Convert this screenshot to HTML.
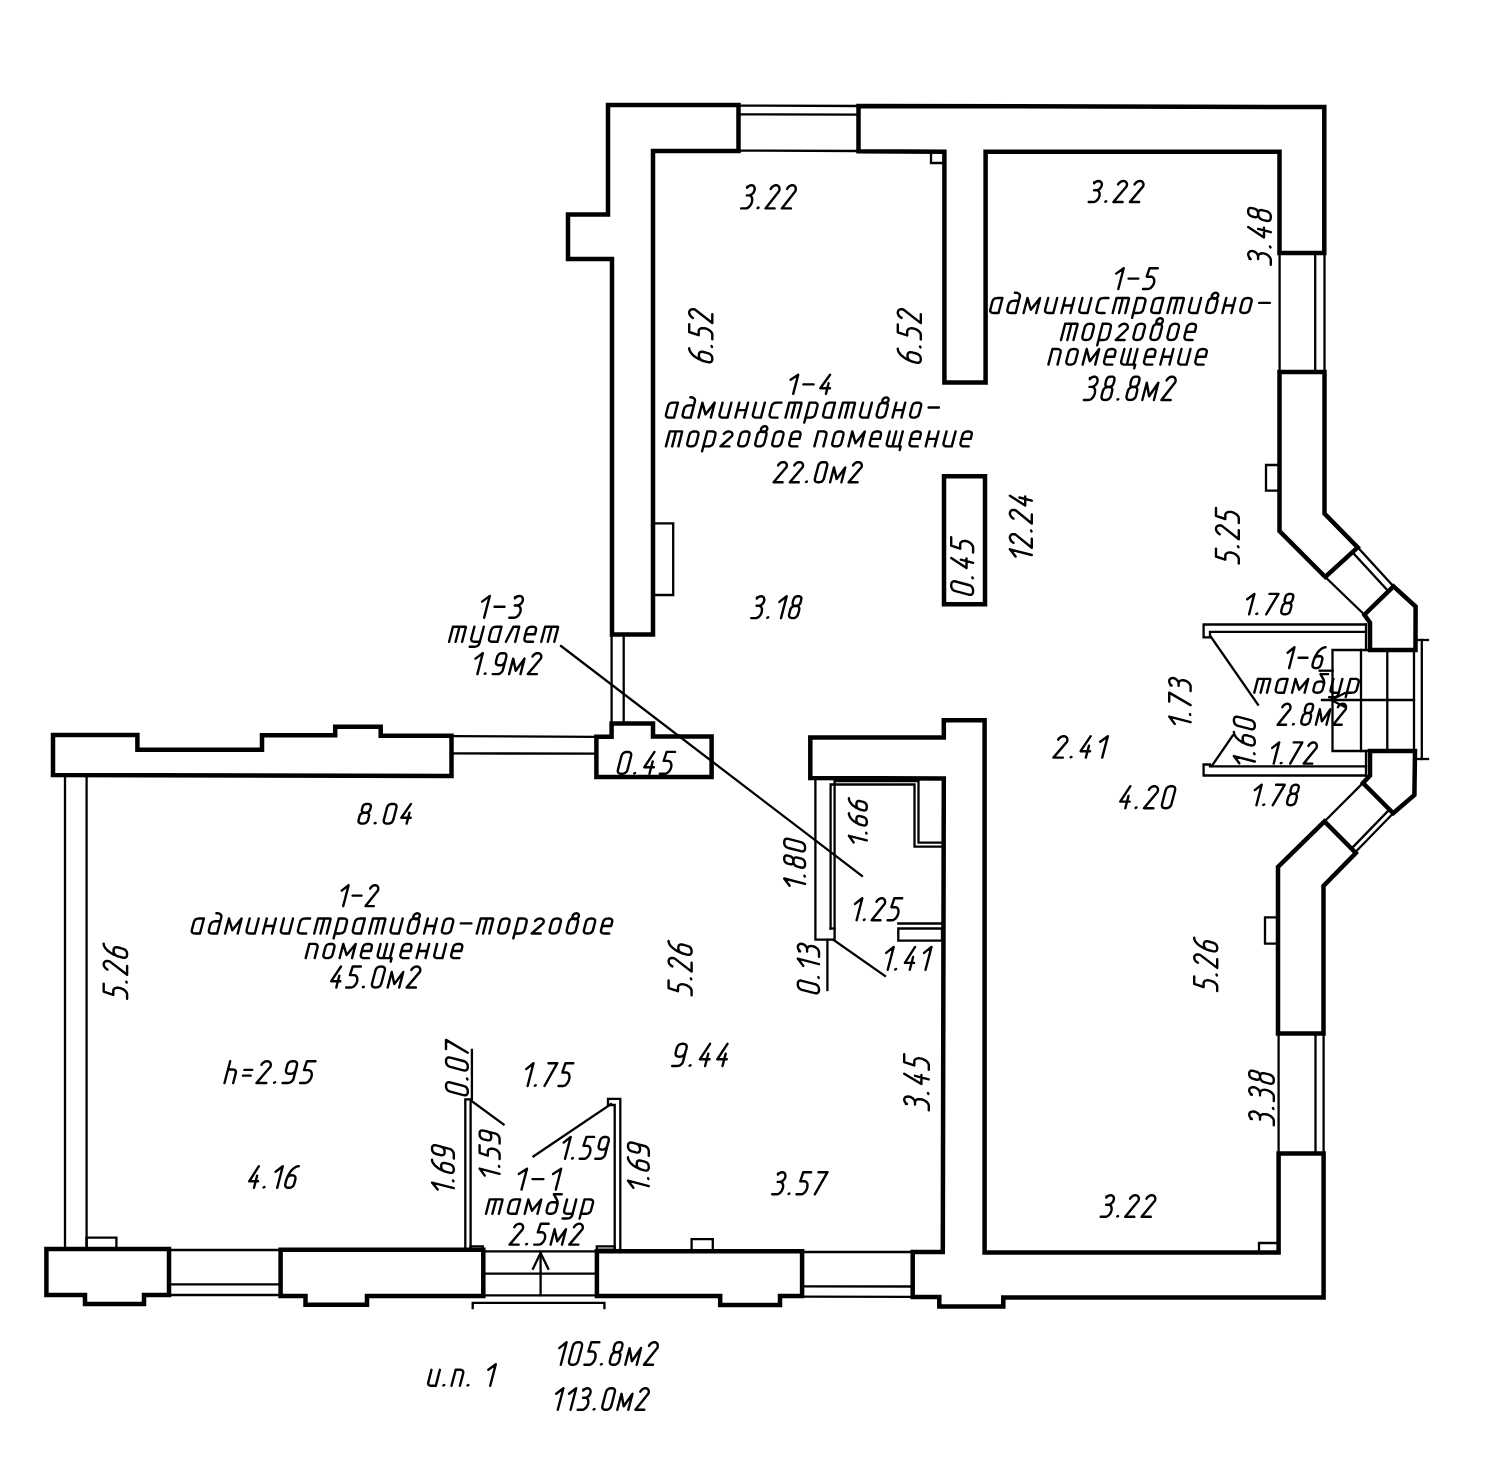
<!DOCTYPE html><html><head><meta charset="utf-8"><style>html,body{margin:0;padding:0;background:#fff;overflow:hidden}svg{display:block}</style></head><body>
<svg width="1500" height="1484" viewBox="0 0 1500 1484">
<rect width="1500" height="1484" fill="#fff"/>
<g fill="none" stroke="#000" stroke-linejoin="miter" stroke-linecap="square">
<path d="M738.5 105.0 L608.0 105.0 L608.0 214.5 L568.0 214.5 L568.0 259.0 L612.0 259.0 L612.0 634.5 L653.0 634.5 L653.0 151.0 L738.5 151.0 Z" stroke-width="4.5"/>
<path d="M858.5 106.0 L1324.3 107.0 L1324.3 253.0 L1279.5 253.0 L1279.5 151.8 L985.6 151.8 L985.6 382.6 L944.4 382.6 L944.4 151.8 L858.5 151.2 Z" stroke-width="4.5"/>
<path d="M738.5 105.6 L858.5 106.0" stroke-width="2.3"/>
<path d="M738.5 114.4 L858.5 114.6" stroke-width="2.3"/>
<path d="M738.5 150.6 L858.5 151.0" stroke-width="2.3"/>
<path d="M931.0 151.8 L944.4 151.8 L944.4 163.0 L931.0 163.0 Z" stroke-width="2.3"/>
<path d="M653.0 523.3 L673.2 523.3 L673.2 595.0 L653.0 595.0 Z" stroke-width="2.3"/>
<path d="M1279.6 253.0 L1279.6 372.0" stroke-width="2.3"/>
<path d="M1315.2 253.0 L1315.2 372.0" stroke-width="2.3"/>
<path d="M1324.5 253.0 L1324.5 372.0" stroke-width="2.3"/>
<path d="M1279.5 372.0 L1324.5 372.0 L1324.5 513.6 L1357.7 547.3 L1325.3 577.0 L1279.5 531.0 Z" stroke-width="4.5"/>
<path d="M1266.0 465.0 L1279.5 465.0 L1279.5 490.7 L1266.0 490.7 Z" stroke-width="2.3"/>
<path d="M1357.7 547.3 L1393.5 586.4" stroke-width="2.3"/>
<path d="M1352.5 552.2 L1388.3 591.2" stroke-width="2.3"/>
<path d="M1325.3 577.0 L1364.4 614.7" stroke-width="2.3"/>
<path d="M1393.5 586.4 L1415.6 606.6 L1415.5 650.0 L1370.0 650.0 L1370.0 622.7 L1364.4 614.7 Z" stroke-width="4.5"/>
<path d="M1332.5 650.0 L1414.0 650.0 L1414.0 751.0 L1332.5 751.0 Z" stroke-width="2.3"/>
<path d="M1361.0 650.0 L1361.0 751.0" stroke-width="2.3"/>
<path d="M1387.3 650.0 L1387.3 751.0" stroke-width="2.3"/>
<path d="M1322.0 700.0 L1414.0 700.0" stroke-width="2.3"/>
<path d="M1319.7 670.7 L1332.5 670.7" stroke-width="2.3"/>
<path d="M1421.8 640.0 L1421.8 759.0" stroke-width="2.3"/>
<path d="M1416.0 640.0 L1428.0 640.0" stroke-width="2.3"/>
<path d="M1416.0 759.0 L1428.0 759.0" stroke-width="2.3"/>
<path d="M1345.0 693.0 L1331.0 700.0 L1345.0 707.0" stroke-width="2.3"/>
<path d="M1370.0 751.0 L1415.0 751.0 L1414.4 795.0 L1393.2 813.3 L1363.0 783.0 L1370.0 775.5 Z" stroke-width="4.5"/>
<path d="M1363.0 783.0 L1324.5 821.4" stroke-width="2.3"/>
<path d="M1390.0 809.0 L1352.0 848.0" stroke-width="2.3"/>
<path d="M1393.2 813.3 L1355.8 851.7" stroke-width="2.3"/>
<path d="M1324.5 821.4 L1278.0 867.0 L1278.0 1033.6 L1323.5 1033.6 L1323.5 886.0 L1355.8 853.0 Z" stroke-width="4.5"/>
<path d="M1265.0 917.4 L1278.0 917.4 L1278.0 943.7 L1265.0 943.7 Z" stroke-width="2.3"/>
<path d="M1278.6 1033.6 L1278.6 1153.5" stroke-width="2.3"/>
<path d="M1315.5 1033.6 L1315.5 1153.5" stroke-width="2.3"/>
<path d="M1323.6 1033.6 L1323.6 1153.5" stroke-width="2.3"/>
<path d="M1278.6 1153.5 L1323.6 1153.5 L1323.6 1297.5 L1003.3 1297.5 L1003.3 1306.6 L939.3 1306.6 L939.3 1297.0 L912.7 1297.0 L912.7 1252.0 L942.8 1252.0 L943.8 778.4 L810.3 778.0 L810.3 737.4 L943.8 737.4 L943.8 720.2 L984.6 720.2 L984.6 1252.4 L1278.6 1252.5 Z" stroke-width="4.5"/>
<path d="M1259.0 1243.0 L1278.6 1243.0 L1278.6 1252.5 L1259.0 1252.5 Z" stroke-width="2.3"/>
<path d="M944.0 476.3 L985.0 476.3 L985.0 604.3 L944.0 604.3 Z" stroke-width="4.5"/>
<path d="M53.0 735.0 L137.4 735.0 L137.4 749.8 L262.0 749.8 L262.0 735.3 L335.2 735.3 L335.2 726.8 L380.7 726.8 L380.7 735.7 L451.5 735.7 L451.5 776.0 L53.0 775.0 Z" stroke-width="4.5"/>
<path d="M451.5 736.2 L596.4 736.8" stroke-width="2.3"/>
<path d="M451.5 753.4 L596.4 753.6" stroke-width="2.3"/>
<path d="M596.4 736.8 L611.6 736.8 L611.6 723.4 L653.0 723.4 L653.0 736.6 L711.6 736.6 L711.6 777.0 L596.4 777.0 Z" stroke-width="4.5"/>
<path d="M611.6 634.5 L611.6 723.4" stroke-width="2.3"/>
<path d="M623.7 634.5 L623.7 723.4" stroke-width="2.3"/>
<path d="M65.0 775.0 L65.0 1249.0" stroke-width="2.3"/>
<path d="M86.6 775.0 L86.6 1249.0" stroke-width="2.3"/>
<path d="M86.6 1237.6 L116.4 1237.6 L116.4 1249.0 L86.6 1249.0 Z" stroke-width="2.3"/>
<path d="M46.4 1249.0 L169.0 1249.0 L169.0 1295.0 L144.0 1295.0 L144.0 1304.0 L85.0 1304.0 L85.0 1295.0 L46.4 1295.0 Z" stroke-width="4.5"/>
<path d="M169.0 1250.0 L280.6 1250.0" stroke-width="2.3"/>
<path d="M169.0 1284.4 L280.6 1284.4" stroke-width="2.3"/>
<path d="M169.0 1295.0 L280.6 1295.0" stroke-width="2.3"/>
<path d="M280.6 1249.7 L483.3 1249.7 L483.3 1296.0 L367.0 1296.0 L367.0 1304.7 L305.5 1304.7 L305.5 1296.0 L280.6 1296.0 Z" stroke-width="4.5"/>
<path d="M483.3 1251.4 L596.9 1251.4" stroke-width="2.3"/>
<path d="M483.3 1273.7 L596.9 1273.7" stroke-width="2.3"/>
<path d="M483.3 1295.3 L596.9 1295.3" stroke-width="2.3"/>
<path d="M540.6 1295.0 L540.6 1253.0" stroke-width="2.3"/>
<path d="M533.0 1268.7 L540.6 1253.0 L548.2 1268.7" stroke-width="2.3"/>
<path d="M472.7 1308.0 L472.7 1302.9 L604.4 1302.9 L604.4 1308.0" stroke-width="2.3"/>
<path d="M596.9 1251.3 L802.1 1251.3 L802.1 1296.0 L780.0 1296.0 L780.0 1305.1 L720.2 1305.1 L720.2 1296.0 L596.9 1296.0 Z" stroke-width="4.5"/>
<path d="M691.6 1239.2 L712.8 1239.2 L712.8 1251.3 L691.6 1251.3 Z" stroke-width="2.3"/>
<path d="M802.1 1252.0 L912.7 1252.0" stroke-width="2.3"/>
<path d="M802.1 1286.3 L912.7 1286.5" stroke-width="2.3"/>
<path d="M802.1 1296.6 L912.7 1296.8" stroke-width="2.3"/>
<path d="M815.4 778.0 L815.4 939.6 L834.6 939.6 L834.6 781.0 L918.5 781.0 L918.5 842.6 L942.0 842.6" stroke-width="2.3"/>
<path d="M830.6 928.5 L830.6 784.5 L914.5 784.5 L914.5 846.6 L942.0 846.6" stroke-width="2.3"/>
<path d="M830.6 928.5 L834.6 928.5" stroke-width="2.3"/>
<path d="M898.3 923.5 L942.0 923.5" stroke-width="2.3"/>
<path d="M898.3 928.5 L942.0 928.5 L942.0 940.6 L898.3 940.6 Z" stroke-width="2.3"/>
<path d="M1366.0 624.5 L1203.6 624.5 L1203.6 637.3 L1210.0 637.3 L1210.0 631.8 L1366.0 631.8" stroke-width="2.3"/>
<path d="M1366.0 775.5 L1203.6 775.5 L1203.6 764.5 L1210.0 764.5 L1210.0 766.4 L1366.0 766.4" stroke-width="2.3"/>
<path d="M1366.0 624.5 L1366.0 650.0" stroke-width="2.3"/>
<path d="M1366.0 751.0 L1366.0 775.5" stroke-width="2.3"/>
<path d="M465.3 1249.7 L465.3 1099.3 L470.6 1099.3 L470.6 1249.7" stroke-width="2.3"/>
<path d="M614.7 1249.7 L614.7 1105.0 L608.0 1105.0 L608.0 1098.8 L620.3 1098.8 L620.3 1249.7" stroke-width="2.3"/>
<path d="M470.6 1246.4 L482.8 1246.4 L482.8 1249.7 L470.6 1249.7 Z" stroke-width="2.3"/>
<path d="M596.8 1246.4 L614.7 1246.4 L614.7 1249.7 L596.8 1249.7 Z" stroke-width="2.3"/>
<path d="M561.0 646.0 L862.0 876.0" stroke-width="2.3"/>
<path d="M833.6 940.0 L885.0 976.0" stroke-width="2.3"/>
<path d="M827.4 940.0 L827.4 990.0" stroke-width="2.3"/>
<path d="M1211.0 637.0 L1258.0 704.6" stroke-width="2.3"/>
<path d="M1211.8 766.0 L1232.7 735.5" stroke-width="2.3"/>
<path d="M471.9 1101.2 L503.6 1124.5" stroke-width="2.3"/>
<path d="M611.0 1104.0 L533.5 1156.3" stroke-width="2.3"/>
<path d="M471.9 1049.9 L471.9 1099.3" stroke-width="2.3"/>
</g>
<g fill="none" stroke="#000" stroke-width="2.4" stroke-linejoin="round" stroke-linecap="round">
<path d="M747.3 186.6 L747.1 187.8 L748.1 186.7 L749.2 185.9 L750.4 185.4 L751.5 185.2 L752.6 185.4 L753.5 185.9 L754.2 186.7 L754.6 187.8 L754.7 189.0 L754.5 190.3 L754.0 191.6 L753.3 192.9 L752.3 193.9 L751.2 194.7 L750.0 195.2 L748.9 195.4 L746.8 195.4 M746.8 195.4 L749.1 195.4 L749.1 195.4 L750.0 195.5 L750.7 195.9 L751.3 196.5 L751.8 197.3 L752.1 198.3 L752.2 199.4 L752.2 200.6 L751.9 201.9 L751.5 203.2 L751.0 204.4 L750.2 205.5 L749.4 206.5 L748.5 207.3 L747.6 207.9 L746.6 208.3 L745.7 208.4 L741.2 208.4 M757.6 208.1 L758.5 207.6 M770.7 189.0 L771.4 187.9 L772.2 187.0 L773.1 186.3 L774.1 185.7 L775.1 185.3 L776.1 185.2 L777.1 185.3 L777.9 185.7 L778.6 186.3 L779.1 187.0 L779.4 187.9 L779.5 189.0 L779.4 190.1 L779.0 191.2 L765.5 208.4 L774.6 208.4 M787.1 189.0 L787.7 187.9 L788.5 187.0 L789.4 186.3 L790.4 185.7 L791.4 185.3 L792.4 185.2 L793.4 185.3 L794.2 185.7 L794.9 186.3 L795.4 187.0 L795.7 187.9 L795.8 189.0 L795.7 190.1 L795.3 191.2 L781.8 208.4 L790.9 208.4"/>
<path d="M1094.3 182.3 L1094.1 183.3 L1095.1 182.4 L1096.2 181.6 L1097.4 181.2 L1098.5 181.0 L1099.6 181.2 L1100.5 181.6 L1101.3 182.4 L1101.7 183.3 L1101.8 184.4 L1101.7 185.6 L1101.2 186.8 L1100.5 187.9 L1099.6 188.9 L1098.5 189.6 L1097.3 190.1 L1096.1 190.2 L1094.1 190.2 M1094.1 190.2 L1096.3 190.2 L1096.3 190.2 L1097.2 190.4 L1098.0 190.7 L1098.6 191.2 L1099.1 192.0 L1099.5 192.9 L1099.6 193.9 L1099.6 195.0 L1099.4 196.1 L1099.0 197.3 L1098.5 198.4 L1097.8 199.4 L1097.0 200.3 L1096.1 201.0 L1095.2 201.6 L1094.2 201.9 L1093.3 202.0 L1088.7 202.0 M1105.3 201.7 L1106.2 201.3 M1118.1 184.4 L1118.7 183.5 L1119.5 182.7 L1120.4 182.0 L1121.4 181.4 L1122.4 181.1 L1123.4 181.0 L1124.4 181.1 L1125.3 181.4 L1126.0 182.0 L1126.5 182.7 L1126.9 183.5 L1127.0 184.4 L1126.9 185.4 L1126.5 186.4 L1113.4 202.0 L1122.6 202.0 M1134.6 184.4 L1135.2 183.5 L1136.0 182.7 L1136.9 182.0 L1137.9 181.4 L1138.9 181.1 L1140.0 181.0 L1140.9 181.1 L1141.8 181.4 L1142.5 182.0 L1143.0 182.7 L1143.4 183.5 L1143.5 184.4 L1143.4 185.4 L1143.1 186.4 L1129.9 202.0 L1139.1 202.0"/>
<path d="M1249.6 258.8 L1250.7 259.0 L1249.7 258.0 L1248.9 256.8 L1248.4 255.6 L1248.2 254.4 L1248.4 253.3 L1248.9 252.3 L1249.7 251.6 L1250.7 251.1 L1251.9 251.0 L1253.2 251.1 L1254.5 251.6 L1255.7 252.4 L1256.7 253.4 L1257.5 254.5 L1258.0 255.8 L1258.1 257.0 L1258.1 259.1 M1258.1 259.1 L1258.1 256.7 L1258.1 256.7 L1258.3 255.8 L1258.6 255.0 L1259.2 254.4 L1260.0 253.8 L1261.0 253.5 L1262.1 253.3 L1263.2 253.4 L1264.5 253.6 L1265.7 254.0 L1266.9 254.6 L1268.0 255.3 L1268.9 256.2 L1269.7 257.1 L1270.3 258.1 L1270.7 259.1 L1270.8 260.0 L1270.8 264.8 M1270.5 247.5 L1270.0 246.6 M1248.2 227.0 L1264.0 237.4 L1264.0 227.8 M1258.1 228.9 L1270.8 232.2 M1258.1 213.7 L1258.0 212.5 L1257.7 211.4 L1257.2 210.4 L1256.4 209.7 L1255.5 209.1 L1254.3 208.7 L1252.0 208.1 L1250.9 207.9 L1249.9 208.0 L1249.2 208.4 L1248.6 209.0 L1248.3 209.9 L1248.2 211.2 L1248.2 211.4 L1248.3 212.7 L1248.6 213.8 L1249.2 214.7 L1249.9 215.4 L1250.9 216.0 L1252.0 216.5 L1254.3 217.0 L1255.5 217.2 L1256.4 217.1 L1257.2 216.8 L1257.7 216.1 L1258.0 215.2 L1258.1 214.0 L1258.1 213.7 M1270.8 217.1 L1270.7 215.7 L1270.3 214.4 L1269.7 213.3 L1268.8 212.4 L1267.7 211.7 L1266.3 211.2 L1262.7 210.3 L1261.3 210.0 L1260.2 210.1 L1259.3 210.6 L1258.6 211.3 L1258.3 212.4 L1258.1 213.9 L1258.1 213.9 L1258.3 215.4 L1258.6 216.6 L1259.3 217.7 L1260.2 218.6 L1261.3 219.3 L1262.7 219.8 L1266.3 220.8 L1267.7 221.0 L1268.8 220.9 L1269.7 220.4 L1270.3 219.7 L1270.7 218.6 L1270.8 217.1 L1270.8 217.1"/>
<path d="M689.2 348.3 L689.2 348.3 L689.3 349.5 L689.8 350.8 L690.4 352.0 L691.4 353.3 L692.5 354.6 L693.9 355.9 L695.5 357.0 L697.3 358.2 L699.2 359.2 L701.2 360.1 L703.3 360.8 L705.4 361.5 M712.3 358.8 L712.2 357.4 L711.8 356.2 L711.1 355.1 L710.2 354.3 L709.1 353.6 L707.7 353.1 L703.5 352.0 L702.1 351.8 L701.0 351.8 L700.1 352.2 L699.4 352.9 L699.0 354.0 L698.9 355.3 L698.9 355.3 L699.0 356.7 L699.4 357.9 L700.1 359.0 L701.0 359.8 L702.1 360.5 L703.5 361.0 L707.7 362.1 L709.1 362.3 L710.2 362.2 L711.1 361.8 L711.8 361.1 L712.2 360.1 L712.3 358.8 L712.3 358.8 M712.0 347.0 L711.5 346.1 M689.2 324.2 L689.2 332.0 L698.7 335.2 L698.7 331.1 L698.7 331.1 L698.8 330.3 L699.2 329.6 L699.8 329.0 L700.7 328.5 L701.7 328.2 L702.9 328.1 L704.2 328.2 L705.5 328.4 L706.8 328.9 L708.1 329.5 L709.3 330.2 L710.3 331.0 L711.2 331.9 L711.8 332.8 L712.2 333.8 L712.3 334.7 L712.3 339.2 M693.0 317.9 L691.9 317.2 L691.0 316.5 L690.3 315.6 L689.7 314.6 L689.3 313.6 L689.2 312.5 L689.3 311.6 L689.7 310.8 L690.3 310.1 L691.0 309.6 L691.9 309.3 L693.0 309.2 L694.1 309.3 L695.2 309.7 L712.3 323.0 L712.3 314.1"/>
<path d="M897.8 348.7 L897.8 348.7 L897.9 349.9 L898.3 351.2 L899.0 352.5 L900.0 353.8 L901.1 355.1 L902.5 356.3 L904.1 357.5 L905.9 358.7 L907.7 359.7 L909.7 360.6 L911.8 361.3 L913.9 362.0 M920.8 359.2 L920.7 357.8 L920.3 356.6 L919.6 355.5 L918.8 354.7 L917.6 354.0 L916.2 353.5 L912.1 352.4 L910.7 352.2 L909.5 352.3 L908.6 352.7 L908.0 353.4 L907.6 354.4 L907.5 355.8 L907.5 355.8 L907.6 357.2 L908.0 358.4 L908.6 359.5 L909.5 360.3 L910.7 361.0 L912.1 361.5 L916.2 362.6 L917.6 362.8 L918.8 362.7 L919.6 362.3 L920.3 361.6 L920.7 360.6 L920.8 359.2 L920.8 359.2 M920.5 347.4 L920.0 346.5 M897.8 324.4 L897.8 332.3 L907.2 335.4 L907.2 331.4 L907.2 331.4 L907.4 330.5 L907.7 329.8 L908.4 329.1 L909.2 328.7 L910.2 328.4 L911.4 328.3 L912.7 328.3 L914.0 328.6 L915.3 329.0 L916.6 329.6 L917.8 330.3 L918.8 331.2 L919.7 332.1 L920.3 333.0 L920.7 334.0 L920.8 334.9 L920.8 339.4 M901.6 317.9 L900.5 317.3 L899.6 316.5 L898.8 315.6 L898.3 314.6 L897.9 313.6 L897.8 312.6 L897.9 311.7 L898.3 310.8 L898.8 310.1 L899.6 309.6 L900.5 309.3 L901.6 309.2 L902.6 309.3 L903.7 309.7 L920.8 323.1 L920.8 314.1"/>
<path d="M973.1 590.9 L973.0 589.4 L972.6 588.1 L972.0 587.0 L971.2 586.1 L970.1 585.4 L968.7 585.0 L955.6 581.5 L954.2 581.3 L953.1 581.4 L952.3 581.9 L951.7 582.7 L951.3 583.8 L951.2 585.2 L951.2 585.2 L951.3 586.7 L951.7 588.0 L952.3 589.1 L953.1 590.0 L954.2 590.7 L955.6 591.2 L968.7 594.6 L970.1 594.8 L971.2 594.7 L972.0 594.2 L972.6 593.5 L973.0 592.4 L973.1 590.9 L973.1 590.9 M972.8 578.3 L972.3 577.4 M951.2 557.9 L966.5 568.1 L966.5 558.5 M960.8 559.7 L973.1 562.9 M951.2 537.2 L951.2 545.6 L960.2 548.7 L960.2 544.3 L960.2 544.3 L960.3 543.4 L960.7 542.6 L961.3 542.0 L962.1 541.4 L963.1 541.1 L964.2 540.9 L965.4 541.0 L966.6 541.2 L967.9 541.6 L969.1 542.2 L970.2 543.0 L971.2 543.8 L972.0 544.8 L972.6 545.7 L973.0 546.7 L973.1 547.7 L973.1 552.5"/>
<path d="M1009.9 549.3 L1031.8 555.0 M1009.9 549.3 L1015.6 556.6 M1013.5 542.8 L1012.5 542.2 L1011.6 541.4 L1010.9 540.5 L1010.4 539.6 L1010.0 538.5 L1009.9 537.5 L1010.0 536.6 L1010.4 535.7 L1010.9 535.0 L1011.6 534.5 L1012.5 534.2 L1013.5 534.1 L1014.5 534.2 L1015.6 534.6 L1031.8 547.7 L1031.8 538.7 M1031.5 531.4 L1031.0 530.5 M1013.5 518.6 L1012.5 518.0 L1011.6 517.2 L1010.9 516.3 L1010.4 515.3 L1010.0 514.3 L1009.9 513.3 L1010.0 512.3 L1010.4 511.5 L1010.9 510.8 L1011.6 510.3 L1012.5 510.0 L1013.5 509.9 L1014.5 510.0 L1015.6 510.3 L1031.8 523.5 L1031.8 514.5 M1009.9 495.7 L1025.2 505.5 L1025.2 496.5 M1019.5 497.5 L1031.8 500.7"/>
<path d="M1216.0 548.6 L1216.0 556.5 L1225.3 559.6 L1225.3 555.6 L1225.3 555.6 L1225.5 554.7 L1225.9 554.0 L1226.5 553.4 L1227.3 552.9 L1228.3 552.6 L1229.5 552.5 L1230.8 552.5 L1232.1 552.8 L1233.4 553.2 L1234.6 553.8 L1235.8 554.5 L1236.8 555.4 L1237.7 556.3 L1238.3 557.2 L1238.7 558.2 L1238.8 559.1 L1238.8 563.6 M1238.5 547.2 L1238.0 546.3 M1219.7 534.2 L1218.7 533.5 L1217.8 532.8 L1217.0 531.8 L1216.5 530.9 L1216.1 529.8 L1216.0 528.8 L1216.1 527.9 L1216.5 527.0 L1217.0 526.3 L1217.8 525.8 L1218.7 525.5 L1219.7 525.4 L1220.8 525.5 L1221.9 525.9 L1238.8 539.3 L1238.8 530.2 M1216.0 508.0 L1216.0 515.9 L1225.3 519.0 L1225.3 515.0 L1225.3 515.0 L1225.5 514.1 L1225.9 513.4 L1226.5 512.7 L1227.3 512.3 L1228.3 512.0 L1229.5 511.9 L1230.8 511.9 L1232.1 512.2 L1233.4 512.6 L1234.6 513.2 L1235.8 513.9 L1236.8 514.7 L1237.7 515.6 L1238.3 516.6 L1238.7 517.5 L1238.8 518.5 L1238.8 523.0"/>
<path d="M757.0 597.5 L756.8 598.6 L757.8 597.6 L758.8 596.8 L760.0 596.4 L761.1 596.2 L762.2 596.4 L763.1 596.8 L763.8 597.6 L764.2 598.6 L764.3 599.8 L764.1 601.0 L763.6 602.3 L762.9 603.4 L762.0 604.4 L760.9 605.2 L759.8 605.7 L758.6 605.8 L756.6 605.8 M756.6 605.8 L758.9 605.8 L758.9 605.8 L759.7 606.0 L760.4 606.3 L761.1 606.9 L761.5 607.6 L761.9 608.6 L762.0 609.6 L761.9 610.8 L761.7 612.0 L761.3 613.2 L760.8 614.3 L760.1 615.4 L759.3 616.3 L758.4 617.1 L757.5 617.6 L756.6 618.0 L755.7 618.1 L751.2 618.1 M767.3 617.8 L768.2 617.3 M786.7 596.2 L781.0 618.1 M786.7 596.2 L779.4 601.9 M795.9 605.8 L797.1 605.7 L798.1 605.4 L799.0 604.9 L799.7 604.2 L800.2 603.3 L800.6 602.1 L801.2 599.9 L801.4 598.8 L801.3 597.9 L801.0 597.1 L800.4 596.6 L799.5 596.3 L798.4 596.2 L798.2 596.2 L797.0 596.3 L795.9 596.6 L795.1 597.1 L794.4 597.9 L793.8 598.8 L793.4 599.9 L792.8 602.1 L792.6 603.3 L792.7 604.2 L793.1 604.9 L793.7 605.4 L794.5 605.7 L795.7 605.8 L795.9 605.8 M792.6 618.1 L794.0 618.0 L795.2 617.6 L796.2 617.0 L797.1 616.2 L797.7 615.1 L798.2 613.7 L799.1 610.2 L799.3 608.9 L799.2 607.8 L798.8 606.9 L798.1 606.3 L797.1 606.0 L795.8 605.8 L795.8 605.8 L794.4 606.0 L793.2 606.3 L792.1 606.9 L791.3 607.8 L790.6 608.9 L790.2 610.2 L789.3 613.7 L789.0 615.1 L789.1 616.2 L789.5 617.0 L790.2 617.6 L791.2 618.0 L792.6 618.1 L792.6 618.1"/>
<path d="M1254.4 593.9 L1249.1 614.3 M1254.4 593.9 L1247.2 599.2 M1256.3 614.0 L1257.2 613.6 M1269.5 593.9 L1278.5 593.9 L1266.2 614.3 M1287.9 602.9 L1289.1 602.8 L1290.1 602.5 L1291.0 602.0 L1291.7 601.3 L1292.2 600.5 L1292.6 599.4 L1293.1 597.4 L1293.3 596.3 L1293.2 595.4 L1292.9 594.8 L1292.2 594.3 L1291.4 594.0 L1290.2 593.9 L1290.0 593.9 L1288.8 594.0 L1287.8 594.3 L1286.9 594.8 L1286.2 595.4 L1285.7 596.3 L1285.3 597.4 L1284.8 599.4 L1284.6 600.5 L1284.7 601.3 L1285.0 602.0 L1285.7 602.5 L1286.5 602.8 L1287.7 602.9 L1287.9 602.9 M1284.8 614.3 L1286.2 614.2 L1287.4 613.8 L1288.4 613.3 L1289.3 612.5 L1289.9 611.5 L1290.3 610.2 L1291.2 607.0 L1291.4 605.7 L1291.3 604.7 L1290.9 603.9 L1290.1 603.3 L1289.1 603.0 L1287.8 602.9 L1287.8 602.9 L1286.4 603.0 L1285.2 603.3 L1284.2 603.9 L1283.3 604.7 L1282.7 605.7 L1282.2 607.0 L1281.4 610.2 L1281.2 611.5 L1281.3 612.5 L1281.7 613.3 L1282.4 613.8 L1283.5 614.2 L1284.8 614.3 L1284.8 614.3"/>
<path d="M1294.5 647.3 L1289.1 668.1 M1294.5 647.3 L1287.6 652.7 M1298.6 657.7 L1307.5 657.7 M1325.5 647.3 L1325.5 647.3 L1324.4 647.4 L1323.2 647.8 L1322.0 648.4 L1320.7 649.3 L1319.6 650.3 L1318.4 651.6 L1317.3 653.0 L1316.3 654.6 L1315.3 656.3 L1314.5 658.1 L1313.8 660.0 L1313.2 661.9 M1315.8 668.1 L1317.2 668.0 L1318.3 667.6 L1319.3 667.1 L1320.1 666.3 L1320.7 665.2 L1321.2 663.9 L1322.1 660.2 L1322.4 658.9 L1322.3 657.9 L1321.9 657.1 L1321.2 656.5 L1320.3 656.2 L1319.0 656.0 L1319.0 656.0 L1317.7 656.2 L1316.5 656.5 L1315.5 657.1 L1314.7 657.9 L1314.1 658.9 L1313.7 660.2 L1312.7 663.9 L1312.5 665.2 L1312.6 666.3 L1312.9 667.1 L1313.6 667.6 L1314.6 668.0 L1315.8 668.1 L1315.8 668.1"/>
<path d="M1254.3 692.7 L1257.9 678.9 L1269.7 678.9 L1269.9 678.9 L1270.1 679.0 L1270.2 679.0 L1270.3 679.1 L1270.3 679.3 L1270.3 679.5 L1266.9 692.7 M1261.7 678.9 L1261.7 678.9 L1262.4 679.0 L1263.0 679.1 L1263.4 679.4 L1263.7 679.7 L1263.8 680.2 L1263.7 680.8 L1260.6 692.7 M1287.6 678.9 L1283.0 678.9 L1281.6 679.0 L1280.4 679.3 L1279.4 679.7 L1278.6 680.4 L1278.0 681.2 L1277.6 682.3 L1275.8 689.3 L1275.7 690.4 L1275.8 691.2 L1276.3 691.9 L1277.0 692.3 L1278.1 692.6 L1279.5 692.7 L1284.0 692.7 M1287.6 678.9 L1284.0 692.7 M1292.0 692.7 L1295.6 678.9 L1299.1 689.7 L1308.2 678.9 L1304.6 692.7 M1317.2 692.7 L1318.6 692.6 L1319.8 692.3 L1320.8 691.9 L1321.6 691.2 L1322.2 690.4 L1322.6 689.3 L1323.8 684.9 L1323.9 683.8 L1323.7 683.0 L1323.3 682.4 L1322.5 681.9 L1321.5 681.6 L1320.1 681.5 L1320.1 681.5 L1318.7 681.6 L1317.5 681.9 L1316.5 682.4 L1315.7 683.0 L1315.1 683.8 L1314.7 684.9 L1313.5 689.3 L1313.4 690.4 L1313.6 691.2 L1314.0 691.9 L1314.8 692.3 L1315.8 692.6 L1317.2 692.7 L1317.2 692.7 M1320.5 674.1 L1328.1 674.1 M1320.5 674.1 L1323.3 679.1 L1323.7 679.9 L1324.0 680.8 L1324.1 681.6 L1324.2 682.5 L1324.1 683.4 L1323.9 684.3 L1323.2 687.1 M1333.4 678.9 L1330.7 689.3 L1330.5 690.4 L1330.7 691.2 L1331.1 691.9 L1331.9 692.3 L1332.9 692.6 L1334.3 692.7 L1338.8 692.7 M1342.4 678.9 L1338.5 693.8 L1338.2 694.8 L1337.6 695.7 L1336.8 696.3 L1335.8 696.8 L1334.6 697.1 L1333.1 697.2 L1329.1 697.2 M1350.5 678.9 L1345.7 697.2 M1350.5 678.9 L1355.0 678.9 L1356.4 679.0 L1357.4 679.3 L1358.2 679.7 L1358.6 680.4 L1358.8 681.2 L1358.7 682.3 L1356.8 689.3 L1356.4 690.4 L1355.8 691.2 L1355.0 691.9 L1354.0 692.3 L1352.8 692.6 L1351.4 692.7 L1346.9 692.7"/>
<path d="M1282.3 707.2 L1282.9 706.3 L1283.6 705.4 L1284.5 704.8 L1285.4 704.2 L1286.3 703.9 L1287.3 703.8 L1288.2 703.9 L1289.0 704.2 L1289.6 704.8 L1290.1 705.4 L1290.4 706.3 L1290.5 707.2 L1290.4 708.2 L1290.1 709.2 L1277.6 724.7 L1286.1 724.7 M1293.0 724.4 L1293.8 724.0 M1307.9 713.0 L1309.0 712.9 L1310.0 712.6 L1310.8 712.1 L1311.5 711.4 L1312.0 710.5 L1312.4 709.4 L1312.9 707.4 L1313.1 706.3 L1313.0 705.4 L1312.7 704.7 L1312.2 704.2 L1311.3 703.9 L1310.2 703.8 L1310.0 703.8 L1308.9 703.9 L1307.9 704.2 L1307.1 704.7 L1306.4 705.4 L1305.9 706.3 L1305.5 707.4 L1305.0 709.4 L1304.8 710.5 L1304.8 711.4 L1305.2 712.1 L1305.7 712.6 L1306.6 712.9 L1307.6 713.0 L1307.9 713.0 M1304.7 724.7 L1306.0 724.6 L1307.2 724.2 L1308.2 723.7 L1309.0 722.8 L1309.6 721.8 L1310.0 720.5 L1310.9 717.2 L1311.1 715.9 L1311.0 714.9 L1310.7 714.0 L1310.0 713.5 L1309.0 713.1 L1307.7 713.0 L1307.7 713.0 L1306.4 713.1 L1305.3 713.5 L1304.3 714.0 L1303.5 714.9 L1302.9 715.9 L1302.4 717.2 L1301.5 720.5 L1301.3 721.8 L1301.4 722.8 L1301.8 723.7 L1302.5 724.2 L1303.4 724.6 L1304.7 724.7 L1304.7 724.7 M1315.8 724.7 L1319.8 709.2 L1321.9 721.4 L1330.4 709.2 L1326.4 724.7 M1337.9 707.2 L1338.5 706.3 L1339.2 705.4 L1340.0 704.8 L1341.0 704.2 L1341.9 703.9 L1342.9 703.8 L1343.8 703.9 L1344.6 704.2 L1345.2 704.8 L1345.7 705.4 L1346.0 706.3 L1346.1 707.2 L1346.0 708.2 L1345.7 709.2 L1333.2 724.7 L1341.7 724.7"/>
<path d="M1233.9 756.1 L1254.8 761.5 M1233.9 756.1 L1239.3 763.3 M1254.5 754.2 L1254.1 753.3 M1233.9 732.0 L1233.9 732.0 L1234.0 733.2 L1234.4 734.4 L1235.0 735.7 L1235.9 737.0 L1236.9 738.2 L1238.2 739.4 L1239.6 740.6 L1241.2 741.6 L1242.9 742.6 L1244.7 743.4 L1246.6 744.2 L1248.5 744.7 M1254.8 741.9 L1254.7 740.5 L1254.3 739.3 L1253.8 738.2 L1252.9 737.4 L1251.9 736.8 L1250.6 736.3 L1246.9 735.3 L1245.6 735.1 L1244.5 735.2 L1243.7 735.6 L1243.1 736.4 L1242.8 737.4 L1242.7 738.7 L1242.7 738.7 L1242.8 740.1 L1243.1 741.3 L1243.7 742.4 L1244.5 743.2 L1245.6 743.8 L1246.9 744.3 L1250.6 745.3 L1251.9 745.5 L1252.9 745.4 L1253.8 745.0 L1254.3 744.2 L1254.7 743.2 L1254.8 741.9 L1254.8 741.9 M1254.8 725.7 L1254.7 724.3 L1254.3 723.1 L1253.8 722.1 L1252.9 721.3 L1251.9 720.6 L1250.6 720.2 L1238.1 716.9 L1236.8 716.7 L1235.8 716.8 L1234.9 717.2 L1234.4 717.9 L1234.0 719.0 L1233.9 720.3 L1233.9 720.3 L1234.0 721.7 L1234.4 722.9 L1234.9 723.9 L1235.8 724.8 L1236.8 725.4 L1238.1 725.9 L1250.6 729.1 L1251.9 729.3 L1252.9 729.2 L1253.8 728.8 L1254.3 728.1 L1254.7 727.1 L1254.8 725.7 L1254.8 725.7"/>
<path d="M1279.2 742.4 L1273.7 763.6 M1279.2 742.4 L1272.2 747.9 M1280.7 763.3 L1281.5 762.9 M1293.7 742.4 L1302.4 742.4 L1290.2 763.6 M1308.5 745.9 L1309.1 744.9 L1309.8 744.1 L1310.7 743.4 L1311.6 742.8 L1312.6 742.5 L1313.5 742.4 L1314.4 742.5 L1315.2 742.8 L1315.9 743.4 L1316.4 744.1 L1316.7 744.9 L1316.8 745.9 L1316.7 746.9 L1316.4 747.9 L1303.7 763.6 L1312.3 763.6"/>
<path d="M1261.7 784.8 L1256.4 805.2 M1261.7 784.8 L1254.8 790.1 M1263.3 804.9 L1264.2 804.5 M1276.1 784.8 L1284.7 784.8 L1272.8 805.2 M1293.6 793.8 L1294.7 793.7 L1295.7 793.4 L1296.5 792.9 L1297.2 792.2 L1297.7 791.4 L1298.1 790.3 L1298.6 788.3 L1298.8 787.2 L1298.7 786.3 L1298.4 785.7 L1297.8 785.2 L1297.0 784.9 L1295.9 784.8 L1295.7 784.8 L1294.5 784.9 L1293.6 785.2 L1292.7 785.7 L1292.1 786.3 L1291.5 787.2 L1291.2 788.3 L1290.6 790.3 L1290.4 791.4 L1290.5 792.2 L1290.9 792.9 L1291.4 793.4 L1292.3 793.7 L1293.3 793.8 L1293.6 793.8 M1290.5 805.2 L1291.8 805.1 L1293.0 804.7 L1294.0 804.2 L1294.8 803.4 L1295.4 802.4 L1295.8 801.1 L1296.7 797.9 L1296.9 796.6 L1296.8 795.6 L1296.4 794.8 L1295.7 794.2 L1294.7 793.9 L1293.5 793.8 L1293.5 793.8 L1292.1 793.9 L1291.0 794.2 L1290.0 794.8 L1289.2 795.6 L1288.6 796.6 L1288.1 797.9 L1287.3 801.1 L1287.1 802.4 L1287.2 803.4 L1287.5 804.2 L1288.2 804.7 L1289.2 805.1 L1290.5 805.2 L1290.5 805.2"/>
<path d="M1169.2 716.6 L1190.6 722.2 M1169.2 716.6 L1174.8 723.9 M1190.3 715.0 L1189.9 714.1 M1169.2 701.5 L1169.2 692.6 L1190.6 705.1 M1170.5 685.3 L1171.6 685.5 L1170.6 684.6 L1169.8 683.5 L1169.4 682.3 L1169.2 681.2 L1169.4 680.1 L1169.8 679.2 L1170.6 678.6 L1171.6 678.1 L1172.7 678.0 L1173.9 678.2 L1175.1 678.6 L1176.3 679.4 L1177.2 680.3 L1178.0 681.4 L1178.5 682.5 L1178.6 683.6 L1178.6 685.7 M1178.6 685.7 L1178.6 683.4 L1178.6 683.4 L1178.7 682.6 L1179.1 681.8 L1179.6 681.2 L1180.4 680.7 L1181.3 680.4 L1182.3 680.3 L1183.4 680.3 L1184.6 680.5 L1185.8 680.9 L1186.9 681.4 L1187.9 682.1 L1188.8 682.9 L1189.6 683.8 L1190.1 684.7 L1190.5 685.6 L1190.6 686.5 L1190.6 691.0"/>
<path d="M1058.2 739.7 L1058.8 738.7 L1059.6 737.9 L1060.6 737.2 L1061.6 736.6 L1062.7 736.3 L1063.7 736.2 L1064.7 736.3 L1065.6 736.6 L1066.4 737.2 L1066.9 737.9 L1067.3 738.7 L1067.4 739.7 L1067.3 740.7 L1067.0 741.7 L1053.4 757.6 L1062.9 757.6 M1070.6 757.3 L1071.5 756.9 M1090.7 736.2 L1080.6 751.2 L1090.1 751.2 M1089.0 745.6 L1085.8 757.6 M1107.8 736.2 L1102.2 757.6 M1107.8 736.2 L1100.2 741.8"/>
<path d="M1130.4 786.2 L1120.2 801.6 L1129.7 801.6 M1128.5 795.9 L1125.3 808.2 M1135.6 807.9 L1136.5 807.4 M1148.9 789.8 L1149.5 788.8 L1150.3 787.9 L1151.2 787.2 L1152.2 786.7 L1153.3 786.3 L1154.4 786.2 L1155.4 786.3 L1156.2 786.7 L1157.0 787.2 L1157.5 787.9 L1157.9 788.8 L1158.0 789.8 L1157.9 790.8 L1157.5 791.9 L1143.9 808.2 L1153.4 808.2 M1165.7 808.2 L1167.2 808.1 L1168.4 807.7 L1169.5 807.1 L1170.4 806.2 L1171.1 805.1 L1171.5 803.8 L1175.0 790.6 L1175.2 789.3 L1175.1 788.2 L1174.7 787.3 L1173.9 786.7 L1172.8 786.3 L1171.4 786.2 L1171.4 786.2 L1169.9 786.3 L1168.6 786.7 L1167.6 787.3 L1166.7 788.2 L1166.0 789.3 L1165.5 790.6 L1162.1 803.8 L1161.9 805.1 L1162.0 806.2 L1162.4 807.1 L1163.2 807.7 L1164.3 808.1 L1165.7 808.2 L1165.7 808.2"/>
<path d="M1194.2 976.4 L1194.2 983.9 L1203.6 987.0 L1203.6 983.2 L1203.6 983.2 L1203.8 982.4 L1204.1 981.7 L1204.8 981.1 L1205.6 980.6 L1206.6 980.4 L1207.8 980.3 L1209.1 980.4 L1210.4 980.6 L1211.7 981.1 L1213.0 981.6 L1214.2 982.3 L1215.2 983.1 L1216.1 984.0 L1216.7 984.9 L1217.1 985.8 L1217.2 986.7 L1217.2 991.0 M1216.9 975.4 L1216.4 974.5 M1198.0 962.7 L1196.9 962.1 L1196.0 961.4 L1195.2 960.5 L1194.7 959.5 L1194.3 958.6 L1194.2 957.6 L1194.3 956.7 L1194.7 955.9 L1195.2 955.2 L1196.0 954.8 L1196.9 954.5 L1198.0 954.4 L1199.0 954.6 L1200.1 954.9 L1217.2 967.9 L1217.2 959.3 M1194.2 937.8 L1194.2 937.8 L1194.3 939.0 L1194.7 940.2 L1195.4 941.4 L1196.4 942.7 L1197.5 943.9 L1198.9 945.1 L1200.5 946.3 L1202.2 947.3 L1204.1 948.3 L1206.1 949.2 L1208.2 950.0 L1210.3 950.6 M1217.2 948.1 L1217.1 946.7 L1216.7 945.6 L1216.0 944.6 L1215.2 943.7 L1214.0 943.1 L1212.6 942.6 L1208.5 941.5 L1207.1 941.3 L1205.9 941.3 L1205.0 941.7 L1204.4 942.4 L1204.0 943.3 L1203.9 944.6 L1203.9 944.6 L1204.0 946.0 L1204.4 947.1 L1205.0 948.1 L1205.9 949.0 L1207.1 949.6 L1208.5 950.1 L1212.6 951.2 L1214.0 951.4 L1215.2 951.4 L1216.0 951.0 L1216.7 950.3 L1217.1 949.4 L1217.2 948.1 L1217.2 948.1"/>
<path d="M1250.7 1118.8 L1251.9 1119.0 L1250.8 1118.1 L1249.9 1116.9 L1249.4 1115.8 L1249.2 1114.6 L1249.4 1113.5 L1249.9 1112.6 L1250.8 1112.0 L1251.9 1111.6 L1253.2 1111.5 L1254.6 1111.7 L1256.0 1112.2 L1257.3 1113.0 L1258.4 1114.0 L1259.3 1115.1 L1259.8 1116.3 L1260.0 1117.4 L1260.0 1119.5 M1260.0 1119.5 L1260.0 1117.2 L1260.0 1117.2 L1260.2 1116.3 L1260.5 1115.6 L1261.2 1115.0 L1262.0 1114.5 L1263.1 1114.2 L1264.3 1114.1 L1265.6 1114.2 L1266.9 1114.5 L1268.3 1114.9 L1269.5 1115.5 L1270.7 1116.2 L1271.8 1117.1 L1272.6 1118.0 L1273.3 1118.9 L1273.7 1119.9 L1273.8 1120.8 L1273.8 1125.3 M1273.4 1108.9 L1272.9 1108.0 M1250.7 1094.5 L1251.9 1094.7 L1250.8 1093.8 L1249.9 1092.6 L1249.4 1091.5 L1249.2 1090.3 L1249.4 1089.2 L1249.9 1088.3 L1250.8 1087.7 L1251.9 1087.3 L1253.2 1087.2 L1254.6 1087.4 L1256.0 1087.9 L1257.3 1088.7 L1258.4 1089.7 L1259.3 1090.8 L1259.8 1092.0 L1260.0 1093.1 L1260.0 1095.2 M1260.0 1095.2 L1260.0 1092.9 L1260.0 1092.9 L1260.2 1092.0 L1260.5 1091.3 L1261.2 1090.7 L1262.0 1090.2 L1263.1 1089.9 L1264.3 1089.8 L1265.6 1089.9 L1266.9 1090.2 L1268.3 1090.6 L1269.5 1091.2 L1270.7 1091.9 L1271.8 1092.7 L1272.6 1093.7 L1273.3 1094.6 L1273.7 1095.6 L1273.8 1096.5 L1273.8 1101.0 M1260.0 1076.5 L1259.9 1075.3 L1259.6 1074.2 L1259.0 1073.3 L1258.2 1072.6 L1257.1 1072.0 L1255.8 1071.6 L1253.4 1070.9 L1252.1 1070.7 L1251.1 1070.7 L1250.2 1071.1 L1249.7 1071.7 L1249.3 1072.5 L1249.2 1073.7 L1249.2 1073.9 L1249.3 1075.1 L1249.7 1076.2 L1250.2 1077.1 L1251.1 1077.8 L1252.1 1078.4 L1253.4 1078.8 L1255.8 1079.5 L1257.1 1079.7 L1258.2 1079.7 L1259.0 1079.3 L1259.6 1078.7 L1259.9 1077.9 L1260.0 1076.7 L1260.0 1076.5 M1273.8 1080.2 L1273.7 1078.8 L1273.3 1077.5 L1272.6 1076.5 L1271.6 1075.6 L1270.4 1074.9 L1268.9 1074.4 L1264.9 1073.4 L1263.4 1073.1 L1262.2 1073.2 L1261.3 1073.5 L1260.6 1074.2 L1260.2 1075.3 L1260.0 1076.6 L1260.0 1076.6 L1260.2 1078.0 L1260.6 1079.3 L1261.3 1080.3 L1262.2 1081.2 L1263.4 1081.9 L1264.9 1082.4 L1268.9 1083.4 L1270.4 1083.7 L1271.6 1083.6 L1272.6 1083.3 L1273.3 1082.6 L1273.7 1081.5 L1273.8 1080.2 L1273.8 1080.2"/>
<path d="M1106.4 1196.5 L1106.3 1197.6 L1107.2 1196.6 L1108.3 1195.8 L1109.5 1195.4 L1110.6 1195.2 L1111.7 1195.4 L1112.6 1195.8 L1113.4 1196.6 L1113.8 1197.6 L1113.9 1198.7 L1113.7 1200.0 L1113.3 1201.2 L1112.5 1202.3 L1111.6 1203.3 L1110.5 1204.1 L1109.3 1204.5 L1108.2 1204.7 L1106.1 1204.7 M1106.1 1204.7 L1108.4 1204.7 L1108.4 1204.7 L1109.3 1204.8 L1110.0 1205.2 L1110.7 1205.7 L1111.2 1206.5 L1111.5 1207.4 L1111.6 1208.4 L1111.6 1209.6 L1111.4 1210.8 L1111.0 1211.9 L1110.4 1213.1 L1109.8 1214.1 L1108.9 1215.0 L1108.1 1215.8 L1107.1 1216.3 L1106.2 1216.7 L1105.3 1216.8 L1100.7 1216.8 M1117.2 1216.5 L1118.1 1216.0 M1130.1 1198.7 L1130.7 1197.8 L1131.5 1196.9 L1132.4 1196.2 L1133.3 1195.6 L1134.4 1195.3 L1135.4 1195.2 L1136.3 1195.3 L1137.2 1195.6 L1137.9 1196.2 L1138.4 1196.9 L1138.8 1197.8 L1138.9 1198.7 L1138.8 1199.7 L1138.4 1200.8 L1125.2 1216.8 L1134.3 1216.8 M1146.5 1198.7 L1147.1 1197.8 L1147.9 1196.9 L1148.8 1196.2 L1149.8 1195.6 L1150.8 1195.3 L1151.8 1195.2 L1152.8 1195.3 L1153.6 1195.6 L1154.3 1196.2 L1154.9 1196.9 L1155.2 1197.8 L1155.3 1198.7 L1155.2 1199.7 L1154.9 1200.8 L1141.6 1216.8 L1150.8 1216.8"/>
<path d="M905.7 1103.8 L906.9 1104.0 L905.8 1103.1 L904.9 1101.9 L904.4 1100.8 L904.2 1099.6 L904.4 1098.5 L904.9 1097.6 L905.8 1097.0 L906.9 1096.6 L908.2 1096.5 L909.6 1096.7 L911.0 1097.2 L912.3 1098.0 L913.4 1099.0 L914.3 1100.1 L914.8 1101.3 L915.0 1102.4 L915.0 1104.5 M915.0 1104.5 L915.0 1102.2 L915.0 1102.2 L915.2 1101.3 L915.5 1100.6 L916.2 1100.0 L917.0 1099.5 L918.1 1099.2 L919.3 1099.1 L920.6 1099.2 L921.9 1099.5 L923.3 1099.9 L924.5 1100.5 L925.7 1101.2 L926.8 1102.0 L927.6 1103.0 L928.3 1103.9 L928.7 1104.9 L928.8 1105.8 L928.8 1110.3 M928.4 1093.9 L927.9 1093.0 M904.2 1073.7 L921.4 1084.0 L921.4 1075.0 M915.0 1075.8 L928.8 1079.4 M904.2 1054.2 L904.2 1062.1 L914.3 1065.4 L914.3 1061.4 L914.3 1061.4 L914.4 1060.5 L914.8 1059.8 L915.5 1059.2 L916.4 1058.7 L917.5 1058.4 L918.8 1058.3 L920.1 1058.4 L921.5 1058.7 L923.0 1059.2 L924.3 1059.8 L925.6 1060.5 L926.7 1061.4 L927.6 1062.3 L928.2 1063.2 L928.7 1064.2 L928.8 1065.1 L928.8 1069.7"/>
<path d="M798.2 374.8 L793.2 393.9 M798.2 374.8 L790.6 379.8 M803.4 384.4 L813.6 384.4 M830.1 374.8 L820.3 388.2 L830.0 388.2 M828.6 383.2 L825.9 393.9"/>
<path d="M677.9 402.6 L673.4 402.6 L672.1 402.7 L670.9 403.0 L669.9 403.5 L669.1 404.2 L668.5 405.1 L668.1 406.2 L666.1 414.0 L665.9 415.1 L666.0 416.0 L666.5 416.7 L667.2 417.2 L668.2 417.5 L669.5 417.6 L674.0 417.6 M677.9 402.6 L674.0 417.6 M693.8 405.4 L689.4 405.4 L688.0 405.5 L686.8 405.8 L685.8 406.4 L685.1 407.1 L684.4 408.0 L684.0 409.1 L682.8 414.0 L682.6 415.1 L682.7 416.0 L683.2 416.7 L683.9 417.2 L684.9 417.5 L686.2 417.6 L690.7 417.6 M690.7 417.6 L694.9 401.4 L694.9 401.4 L695.0 400.5 L694.9 399.7 L694.5 398.9 L693.9 398.3 L693.2 397.8 L692.3 397.5 L691.2 397.3 L690.2 397.4 M698.5 417.6 L702.4 402.6 L705.5 414.4 L714.7 402.6 L710.8 417.6 M722.6 402.6 L719.6 414.0 L719.4 415.1 L719.6 416.0 L720.0 416.7 L720.7 417.2 L721.8 417.5 L723.1 417.6 L727.5 417.6 M731.4 402.6 L727.5 417.6 M735.4 417.6 L739.3 402.6 M744.2 417.6 L748.1 402.6 M737.3 410.1 L746.2 410.1 M756.0 402.6 L753.0 414.0 L752.8 415.1 L753.0 416.0 L753.4 416.7 L754.1 417.2 L755.2 417.5 L756.5 417.6 L760.9 417.6 M764.8 402.6 L760.9 417.6 M781.5 402.6 L777.1 402.6 L775.7 402.7 L774.5 403.0 L773.5 403.5 L772.7 404.2 L772.1 405.1 L771.7 406.2 L769.7 414.0 L769.5 415.1 L769.7 416.0 L770.1 416.7 L770.8 417.2 L771.9 417.5 L773.2 417.6 L777.6 417.6 M785.5 417.6 L789.4 402.6 L800.9 402.6 L801.1 402.6 L801.3 402.7 L801.4 402.8 L801.5 402.9 L801.5 403.0 L801.5 403.2 L797.7 417.6 M793.0 402.6 L793.0 402.6 L793.8 402.7 L794.4 402.8 L794.8 403.1 L795.0 403.5 L795.1 404.0 L795.0 404.6 L791.6 417.6 M809.5 402.6 L804.3 422.5 M809.5 402.6 L813.9 402.6 L815.2 402.7 L816.3 403.0 L817.0 403.5 L817.4 404.2 L817.6 405.1 L817.4 406.2 L815.4 414.0 L815.0 415.1 L814.4 416.0 L813.6 416.7 L812.6 417.2 L811.4 417.5 L810.0 417.6 L805.6 417.6 M835.0 402.6 L830.6 402.6 L829.2 402.7 L828.1 403.0 L827.1 403.5 L826.3 404.2 L825.7 405.1 L825.3 406.2 L823.3 414.0 L823.1 415.1 L823.2 416.0 L823.6 416.7 L824.4 417.2 L825.4 417.5 L826.7 417.6 L831.1 417.6 M835.0 402.6 L831.1 417.6 M839.0 417.6 L842.9 402.6 L854.4 402.6 L854.7 402.6 L854.8 402.7 L855.0 402.8 L855.0 402.9 L855.1 403.0 L855.0 403.2 L851.3 417.6 M846.6 402.6 L846.6 402.6 L847.3 402.7 L847.9 402.8 L848.3 403.1 L848.5 403.5 L848.6 404.0 L848.5 404.6 L845.1 417.6 M863.0 402.6 L860.1 414.0 L859.9 415.1 L860.1 416.0 L860.5 416.7 L861.2 417.2 L862.2 417.5 L863.6 417.6 L868.0 417.6 M871.9 402.6 L868.0 417.6 M880.3 417.6 L881.6 417.5 L882.8 417.2 L883.8 416.7 L884.6 416.0 L885.2 415.1 L885.6 414.0 L887.6 406.2 L887.8 405.1 L887.7 404.2 L887.2 403.5 L886.5 403.0 L885.5 402.7 L884.2 402.6 L884.2 402.6 L882.8 402.7 L881.6 403.0 L880.6 403.5 L879.8 404.2 L879.2 405.1 L878.8 406.2 L876.8 414.0 L876.6 415.1 L876.8 416.0 L877.2 416.7 L877.9 417.2 L878.9 417.5 L880.3 417.6 L880.3 417.6 M888.5 400.4 L888.6 399.9 L888.6 399.4 L888.5 398.9 L888.3 398.5 L888.0 398.1 L887.7 397.8 L887.2 397.6 L886.7 397.5 L886.2 397.4 L885.7 397.5 L885.1 397.6 L884.6 397.8 L884.1 398.1 L883.6 398.5 L883.2 398.9 L882.8 399.4 L882.6 399.9 L882.4 400.4 L882.3 400.9 L882.3 401.4 L882.4 401.8 L882.6 402.3 L882.9 402.6 L883.3 402.9 L883.7 403.1 L884.2 403.3 L884.7 403.3 L885.2 403.3 L885.8 403.1 L886.3 402.9 L886.8 402.6 L887.3 402.3 L887.7 401.8 L888.1 401.4 L888.3 400.9 L888.5 400.4 M892.5 417.6 L896.4 402.6 M901.4 417.6 L905.3 402.6 M894.5 410.1 L903.3 410.1 M913.7 417.6 L915.0 417.5 L916.2 417.2 L917.2 416.7 L918.0 416.0 L918.6 415.1 L919.0 414.0 L921.0 406.2 L921.2 405.1 L921.1 404.2 L920.6 403.5 L919.9 403.0 L918.9 402.7 L917.6 402.6 L917.6 402.6 L916.2 402.7 L915.0 403.0 L914.0 403.5 L913.2 404.2 L912.6 405.1 L912.2 406.2 L910.2 414.0 L910.0 415.1 L910.2 416.0 L910.6 416.7 L911.3 417.2 L912.3 417.5 L913.7 417.6 L913.7 417.6 M928.6 407.5 L938.9 407.5"/>
<path d="M665.9 446.4 L669.8 431.4 L681.6 431.4 L681.8 431.4 L682.0 431.5 L682.1 431.6 L682.1 431.7 L682.2 431.8 L682.1 432.0 L678.4 446.4 M673.6 431.4 L673.6 431.4 L674.3 431.5 L674.9 431.6 L675.3 431.9 L675.5 432.3 L675.6 432.8 L675.5 433.4 L672.2 446.4 M690.9 446.4 L692.3 446.3 L693.5 446.0 L694.5 445.5 L695.3 444.8 L695.9 443.9 L696.4 442.8 L698.4 435.0 L698.5 433.9 L698.4 433.0 L697.9 432.3 L697.2 431.8 L696.2 431.5 L694.8 431.4 L694.8 431.4 L693.4 431.5 L692.2 431.8 L691.2 432.3 L690.4 433.0 L689.8 433.9 L689.4 435.0 L687.4 442.8 L687.2 443.9 L687.3 444.8 L687.8 445.5 L688.5 446.0 L689.6 446.3 L690.9 446.4 L690.9 446.4 M707.3 431.4 L702.1 451.3 M707.3 431.4 L711.8 431.4 L713.2 431.5 L714.2 431.8 L714.9 432.3 L715.4 433.0 L715.5 433.9 L715.4 435.0 L713.4 442.8 L712.9 443.9 L712.3 444.8 L711.5 445.5 L710.5 446.0 L709.3 446.3 L707.9 446.4 L703.4 446.4 M723.9 433.9 L724.7 433.1 L725.6 432.3 L726.7 431.8 L727.9 431.5 L729.0 431.4 L730.1 431.6 L731.0 432.0 L731.8 432.6 L732.2 433.4 L732.4 434.3 L732.3 435.3 L731.9 436.2 L720.4 446.4 L729.4 446.4 M741.9 446.4 L743.3 446.3 L744.5 446.0 L745.5 445.5 L746.3 444.8 L746.9 443.9 L747.4 442.8 L749.4 435.0 L749.5 433.9 L749.4 433.0 L748.9 432.3 L748.2 431.8 L747.2 431.5 L745.8 431.4 L745.8 431.4 L744.4 431.5 L743.2 431.8 L742.2 432.3 L741.4 433.0 L740.8 433.9 L740.4 435.0 L738.4 442.8 L738.2 443.9 L738.3 444.8 L738.8 445.5 L739.5 446.0 L740.6 446.3 L741.9 446.4 L741.9 446.4 M758.9 446.4 L760.3 446.3 L761.5 446.0 L762.5 445.5 L763.3 444.8 L763.9 443.9 L764.4 442.8 L766.4 435.0 L766.5 433.9 L766.4 433.0 L765.9 432.3 L765.2 431.8 L764.2 431.5 L762.8 431.4 L762.8 431.4 L761.4 431.5 L760.2 431.8 L759.2 432.3 L758.4 433.0 L757.8 433.9 L757.4 435.0 L755.4 442.8 L755.2 443.9 L755.3 444.8 L755.8 445.5 L756.5 446.0 L757.6 446.3 L758.9 446.4 L758.9 446.4 M767.2 429.2 L767.3 428.7 L767.3 428.2 L767.2 427.7 L767.0 427.3 L766.7 426.9 L766.3 426.6 L765.9 426.4 L765.4 426.3 L764.9 426.2 L764.3 426.3 L763.8 426.4 L763.2 426.6 L762.7 426.9 L762.2 427.3 L761.8 427.7 L761.4 428.2 L761.2 428.7 L761.0 429.2 L760.9 429.7 L760.9 430.2 L761.0 430.6 L761.2 431.1 L761.5 431.4 L761.9 431.7 L762.3 431.9 L762.8 432.1 L763.3 432.1 L763.9 432.1 L764.5 431.9 L765.0 431.7 L765.5 431.4 L766.0 431.1 L766.4 430.6 L766.8 430.2 L767.1 429.7 L767.2 429.2 M775.9 446.4 L777.3 446.3 L778.5 446.0 L779.5 445.5 L780.3 444.8 L780.9 443.9 L781.4 442.8 L783.4 435.0 L783.5 433.9 L783.4 433.0 L783.0 432.3 L782.2 431.8 L781.2 431.5 L779.8 431.4 L779.8 431.4 L778.4 431.5 L777.2 431.8 L776.2 432.3 L775.4 433.0 L774.8 433.9 L774.4 435.0 L772.4 442.8 L772.2 443.9 L772.3 444.8 L772.8 445.5 L773.5 446.0 L774.6 446.3 L775.9 446.4 L775.9 446.4 M790.4 438.9 L799.4 438.9 L800.4 435.0 L800.5 433.9 L800.4 433.0 L800.0 432.3 L799.2 431.8 L798.2 431.5 L796.8 431.4 L796.8 431.4 L795.4 431.5 L794.2 431.8 L793.2 432.3 L792.4 433.0 L791.8 433.9 L791.4 435.0 L789.4 442.8 L789.2 443.9 L789.3 444.8 L789.8 445.5 L790.5 446.0 L791.6 446.3 L792.9 446.4 L797.4 446.4 M814.4 446.4 L818.3 431.4 L822.8 431.4 L824.2 431.5 L825.2 431.8 L826.0 432.3 L826.4 433.0 L826.5 433.9 L826.4 435.0 L823.4 446.4 M835.9 446.4 L837.3 446.3 L838.5 446.0 L839.5 445.5 L840.3 444.8 L841.0 443.9 L841.4 442.8 L843.4 435.0 L843.5 433.9 L843.4 433.0 L843.0 432.3 L842.2 431.8 L841.2 431.5 L839.8 431.4 L839.8 431.4 L838.4 431.5 L837.2 431.8 L836.2 432.3 L835.4 433.0 L834.8 433.9 L834.4 435.0 L832.4 442.8 L832.2 443.9 L832.3 444.8 L832.8 445.5 L833.5 446.0 L834.6 446.3 L835.9 446.4 L835.9 446.4 M848.4 446.4 L852.3 431.4 L855.5 443.2 L864.8 431.4 L860.9 446.4 M870.9 438.9 L879.9 438.9 L880.9 435.0 L881.0 433.9 L880.9 433.0 L880.5 432.3 L879.7 431.8 L878.7 431.5 L877.3 431.4 L877.3 431.4 L875.9 431.5 L874.7 431.8 L873.7 432.3 L872.9 433.0 L872.3 433.9 L871.9 435.0 L869.9 442.8 L869.7 443.9 L869.8 444.8 L870.3 445.5 L871.0 446.0 L872.1 446.3 L873.4 446.4 L877.9 446.4 M889.8 431.4 L886.9 442.8 L886.7 443.9 L886.8 444.8 L887.3 445.5 L888.0 446.0 L889.1 446.3 L890.4 446.4 L898.9 446.4 M896.3 431.4 L892.4 446.4 M902.8 431.4 L898.9 446.4 L900.7 446.4 L899.7 450.0 M910.6 438.9 L919.6 438.9 L920.6 435.0 L920.8 433.9 L920.7 433.0 L920.2 432.3 L919.5 431.8 L918.4 431.5 L917.1 431.4 L917.1 431.4 L915.7 431.5 L914.5 431.8 L913.5 432.3 L912.7 433.0 L912.0 433.9 L911.6 435.0 L909.6 442.8 L909.5 443.9 L909.6 444.8 L910.0 445.5 L910.8 446.0 L911.8 446.3 L913.2 446.4 L917.7 446.4 M925.7 446.4 L929.6 431.4 M934.7 446.4 L938.6 431.4 M927.6 438.9 L936.6 438.9 M946.6 431.4 L943.6 442.8 L943.5 443.9 L943.6 444.8 L944.0 445.5 L944.8 446.0 L945.8 446.3 L947.2 446.4 L951.7 446.4 M955.6 431.4 L951.7 446.4 M961.6 438.9 L970.6 438.9 L971.6 435.0 L971.8 433.9 L971.7 433.0 L971.2 432.3 L970.5 431.8 L969.4 431.5 L968.1 431.4 L968.1 431.4 L966.7 431.5 L965.5 431.8 L964.5 432.3 L963.7 433.0 L963.0 433.9 L962.6 435.0 L960.6 442.8 L960.5 443.9 L960.6 444.8 L961.0 445.5 L961.8 446.0 L962.8 446.3 L964.2 446.4 L968.7 446.4"/>
<path d="M778.1 465.4 L778.7 464.5 L779.5 463.7 L780.4 463.0 L781.3 462.5 L782.3 462.2 L783.3 462.1 L784.3 462.2 L785.1 462.5 L785.8 463.0 L786.4 463.7 L786.7 464.5 L786.8 465.4 L786.7 466.4 L786.4 467.3 L773.6 482.3 L782.6 482.3 M794.3 465.4 L794.9 464.5 L795.7 463.7 L796.6 463.0 L797.5 462.5 L798.5 462.2 L799.5 462.1 L800.5 462.2 L801.3 462.5 L802.0 463.0 L802.6 463.7 L802.9 464.5 L803.0 465.4 L802.9 466.4 L802.6 467.3 L789.8 482.3 L798.8 482.3 M806.0 482.0 L806.9 481.6 M818.4 482.3 L819.8 482.2 L821.1 481.9 L822.1 481.3 L822.9 480.5 L823.5 479.5 L824.0 478.3 L827.1 466.1 L827.3 464.9 L827.2 463.9 L826.8 463.1 L826.1 462.5 L825.0 462.2 L823.7 462.1 L823.7 462.1 L822.3 462.2 L821.1 462.5 L820.1 463.1 L819.2 463.9 L818.6 464.9 L818.2 466.1 L815.0 478.3 L814.8 479.5 L814.9 480.5 L815.3 481.3 L816.1 481.9 L817.1 482.2 L818.4 482.3 L818.4 482.3 M830.1 482.3 L834.0 467.4 L836.6 479.1 L845.3 467.4 L841.4 482.3 M853.1 465.4 L853.7 464.5 L854.5 463.7 L855.3 463.0 L856.3 462.5 L857.3 462.2 L858.3 462.1 L859.3 462.2 L860.1 462.5 L860.8 463.0 L861.3 463.7 L861.7 464.5 L861.8 465.4 L861.7 466.4 L861.4 467.3 L848.6 482.3 L857.6 482.3"/>
<path d="M1123.7 268.2 L1118.3 289.0 M1123.7 268.2 L1116.2 273.6 M1128.5 278.6 L1138.3 278.6 M1157.8 268.2 L1149.6 268.2 L1146.7 276.7 L1150.9 276.7 L1150.9 276.7 L1151.8 276.8 L1152.6 277.2 L1153.2 277.8 L1153.7 278.5 L1154.1 279.5 L1154.2 280.5 L1154.2 281.7 L1154.0 282.9 L1153.6 284.1 L1153.0 285.2 L1152.3 286.3 L1151.5 287.2 L1150.6 288.0 L1149.6 288.5 L1148.7 288.9 L1147.7 289.0 L1143.0 289.0"/>
<path d="M1002.4 298.0 L997.8 298.0 L996.4 298.1 L995.2 298.4 L994.2 298.9 L993.4 299.6 L992.8 300.5 L992.4 301.6 L990.4 309.4 L990.2 310.5 L990.3 311.4 L990.8 312.1 L991.5 312.6 L992.6 312.9 L993.9 313.0 L998.5 313.0 M1002.4 298.0 L998.5 313.0 M1018.7 300.8 L1014.2 300.8 L1012.8 300.9 L1011.6 301.2 L1010.6 301.8 L1009.8 302.5 L1009.2 303.4 L1008.7 304.5 L1007.5 309.4 L1007.3 310.5 L1007.4 311.4 L1007.9 312.1 L1008.6 312.6 L1009.7 312.9 L1011.1 313.0 L1015.6 313.0 M1015.6 313.0 L1019.8 296.8 L1019.8 296.8 L1019.9 295.9 L1019.8 295.1 L1019.4 294.3 L1018.8 293.7 L1018.0 293.2 L1017.1 292.9 L1016.0 292.7 L1014.9 292.8 M1023.6 313.0 L1027.5 298.0 L1030.8 309.8 L1040.1 298.0 L1036.2 313.0 M1048.2 298.0 L1045.2 309.4 L1045.0 310.5 L1045.2 311.4 L1045.6 312.1 L1046.4 312.6 L1047.4 312.9 L1048.8 313.0 L1053.3 313.0 M1057.2 298.0 L1053.3 313.0 M1061.4 313.0 L1065.3 298.0 M1070.4 313.0 L1074.3 298.0 M1063.3 305.5 L1072.4 305.5 M1082.4 298.0 L1079.4 309.4 L1079.3 310.5 L1079.4 311.4 L1079.8 312.1 L1080.6 312.6 L1081.6 312.9 L1083.0 313.0 L1087.5 313.0 M1091.4 298.0 L1087.5 313.0 M1108.5 298.0 L1104.0 298.0 L1102.6 298.1 L1101.4 298.4 L1100.4 298.9 L1099.6 299.6 L1099.0 300.5 L1098.5 301.6 L1096.5 309.4 L1096.4 310.5 L1096.5 311.4 L1097.0 312.1 L1097.7 312.6 L1098.8 312.9 L1100.1 313.0 L1104.6 313.0 M1112.7 313.0 L1116.6 298.0 L1128.4 298.0 L1128.6 298.0 L1128.8 298.1 L1128.9 298.2 L1129.0 298.3 L1129.0 298.4 L1129.0 298.6 L1125.3 313.0 M1120.4 298.0 L1120.4 298.0 L1121.1 298.1 L1121.7 298.2 L1122.1 298.5 L1122.4 298.9 L1122.4 299.4 L1122.4 300.0 L1119.0 313.0 M1137.2 298.0 L1132.1 317.9 M1137.2 298.0 L1141.8 298.0 L1143.1 298.1 L1144.2 298.4 L1144.9 298.9 L1145.4 299.6 L1145.5 300.5 L1145.3 301.6 L1143.3 309.4 L1142.9 310.5 L1142.3 311.4 L1141.5 312.1 L1140.5 312.6 L1139.3 312.9 L1137.9 313.0 L1133.3 313.0 M1163.4 298.0 L1158.9 298.0 L1157.4 298.1 L1156.2 298.4 L1155.2 298.9 L1154.4 299.6 L1153.8 300.5 L1153.4 301.6 L1151.4 309.4 L1151.2 310.5 L1151.4 311.4 L1151.8 312.1 L1152.5 312.6 L1153.6 312.9 L1155.0 313.0 L1159.5 313.0 M1163.4 298.0 L1159.5 313.0 M1167.5 313.0 L1171.4 298.0 L1183.3 298.0 L1183.5 298.0 L1183.7 298.1 L1183.8 298.2 L1183.9 298.3 L1183.9 298.4 L1183.9 298.6 L1180.1 313.0 M1175.2 298.0 L1175.2 298.0 L1176.0 298.1 L1176.6 298.2 L1177.0 298.5 L1177.2 298.9 L1177.3 299.4 L1177.2 300.0 L1173.8 313.0 M1192.1 298.0 L1189.1 309.4 L1189.0 310.5 L1189.1 311.4 L1189.5 312.1 L1190.3 312.6 L1191.3 312.9 L1192.7 313.0 L1197.2 313.0 M1201.1 298.0 L1197.2 313.0 M1209.8 313.0 L1211.2 312.9 L1212.4 312.6 L1213.4 312.1 L1214.3 311.4 L1214.9 310.5 L1215.3 309.4 L1217.3 301.6 L1217.4 300.5 L1217.3 299.6 L1216.9 298.9 L1216.1 298.4 L1215.1 298.1 L1213.7 298.0 L1213.7 298.0 L1212.3 298.1 L1211.1 298.4 L1210.1 298.9 L1209.3 299.6 L1208.6 300.5 L1208.2 301.6 L1206.2 309.4 L1206.1 310.5 L1206.2 311.4 L1206.6 312.1 L1207.4 312.6 L1208.4 312.9 L1209.8 313.0 L1209.8 313.0 M1218.2 295.8 L1218.2 295.3 L1218.2 294.8 L1218.1 294.3 L1217.9 293.9 L1217.6 293.5 L1217.2 293.2 L1216.8 293.0 L1216.3 292.9 L1215.8 292.8 L1215.2 292.9 L1214.7 293.0 L1214.1 293.2 L1213.6 293.5 L1213.1 293.9 L1212.7 294.3 L1212.3 294.8 L1212.0 295.3 L1211.9 295.8 L1211.8 296.3 L1211.8 296.8 L1211.9 297.2 L1212.1 297.7 L1212.4 298.0 L1212.8 298.3 L1213.2 298.5 L1213.7 298.7 L1214.2 298.7 L1214.8 298.7 L1215.4 298.5 L1215.9 298.3 L1216.4 298.0 L1216.9 297.7 L1217.3 297.2 L1217.7 296.8 L1218.0 296.3 L1218.2 295.8 M1222.4 313.0 L1226.3 298.0 M1231.4 313.0 L1235.3 298.0 M1224.3 305.5 L1233.4 305.5 M1244.0 313.0 L1245.4 312.9 L1246.6 312.6 L1247.7 312.1 L1248.5 311.4 L1249.1 310.5 L1249.5 309.4 L1251.5 301.6 L1251.7 300.5 L1251.5 299.6 L1251.1 298.9 L1250.3 298.4 L1249.3 298.1 L1247.9 298.0 L1247.9 298.0 L1246.5 298.1 L1245.3 298.4 L1244.3 298.9 L1243.5 299.6 L1242.9 300.5 L1242.4 301.6 L1240.4 309.4 L1240.3 310.5 L1240.4 311.4 L1240.9 312.1 L1241.6 312.6 L1242.7 312.9 L1244.0 313.0 L1244.0 313.0 M1259.2 302.9 L1269.8 302.9"/>
<path d="M1061.0 340.0 L1065.2 323.8 L1077.0 323.8 L1077.2 323.8 L1077.4 323.9 L1077.5 324.0 L1077.6 324.1 L1077.6 324.3 L1077.6 324.5 L1073.5 340.0 M1069.0 323.8 L1069.0 323.8 L1069.7 323.9 L1070.3 324.0 L1070.7 324.3 L1070.9 324.8 L1071.0 325.3 L1070.9 326.0 L1067.3 340.0 M1086.0 340.0 L1087.4 339.9 L1088.6 339.6 L1089.7 339.0 L1090.5 338.2 L1091.1 337.3 L1091.6 336.1 L1093.7 327.7 L1093.9 326.5 L1093.8 325.6 L1093.4 324.8 L1092.6 324.2 L1091.6 323.9 L1090.2 323.8 L1090.2 323.8 L1088.8 323.9 L1087.6 324.2 L1086.6 324.8 L1085.8 325.6 L1085.1 326.5 L1084.7 327.7 L1082.5 336.1 L1082.4 337.3 L1082.5 338.2 L1082.9 339.0 L1083.6 339.6 L1084.7 339.9 L1086.0 340.0 L1086.0 340.0 M1102.7 323.8 L1097.2 345.3 M1102.7 323.8 L1107.3 323.8 L1108.6 323.9 L1109.6 324.2 L1110.4 324.8 L1110.8 325.6 L1110.9 326.5 L1110.7 327.7 L1108.6 336.1 L1108.1 337.3 L1107.5 338.2 L1106.7 339.0 L1105.7 339.6 L1104.4 339.9 L1103.0 340.0 L1098.5 340.0 M1119.3 326.5 L1120.1 325.6 L1121.1 324.8 L1122.2 324.2 L1123.3 323.9 L1124.5 323.8 L1125.6 324.0 L1126.5 324.4 L1127.2 325.1 L1127.7 326.0 L1127.8 326.9 L1127.7 328.0 L1127.3 329.0 L1115.6 340.0 L1124.6 340.0 M1137.1 340.0 L1138.5 339.9 L1139.7 339.6 L1140.7 339.0 L1141.5 338.2 L1142.2 337.3 L1142.6 336.1 L1144.8 327.7 L1145.0 326.5 L1144.8 325.6 L1144.4 324.8 L1143.7 324.2 L1142.6 323.9 L1141.3 323.8 L1141.3 323.8 L1139.9 323.9 L1138.7 324.2 L1137.6 324.8 L1136.8 325.6 L1136.2 326.5 L1135.8 327.7 L1133.6 336.1 L1133.4 337.3 L1133.5 338.2 L1133.9 339.0 L1134.7 339.6 L1135.7 339.9 L1137.1 340.0 L1137.1 340.0 M1154.1 340.0 L1155.5 339.9 L1156.7 339.6 L1157.7 339.0 L1158.5 338.2 L1159.2 337.3 L1159.6 336.1 L1161.8 327.7 L1162.0 326.5 L1161.8 325.6 L1161.4 324.8 L1160.7 324.2 L1159.6 323.9 L1158.3 323.8 L1158.3 323.8 L1156.9 323.9 L1155.7 324.2 L1154.7 324.8 L1153.8 325.6 L1153.2 326.5 L1152.8 327.7 L1150.6 336.1 L1150.4 337.3 L1150.5 338.2 L1151.0 339.0 L1151.7 339.6 L1152.7 339.9 L1154.1 340.0 L1154.1 340.0 M1162.8 321.4 L1162.9 320.8 L1162.9 320.3 L1162.8 319.8 L1162.6 319.4 L1162.3 319.0 L1161.9 318.6 L1161.5 318.4 L1161.0 318.3 L1160.5 318.2 L1159.9 318.3 L1159.4 318.4 L1158.8 318.6 L1158.3 319.0 L1157.8 319.4 L1157.4 319.8 L1157.0 320.3 L1156.7 320.8 L1156.5 321.4 L1156.4 321.9 L1156.4 322.5 L1156.5 323.0 L1156.7 323.4 L1157.0 323.8 L1157.4 324.1 L1157.8 324.4 L1158.3 324.5 L1158.8 324.6 L1159.4 324.5 L1159.9 324.4 L1160.5 324.1 L1161.0 323.8 L1161.5 323.4 L1161.9 323.0 L1162.3 322.5 L1162.6 321.9 L1162.8 321.4 M1171.1 340.0 L1172.5 339.9 L1173.7 339.6 L1174.7 339.0 L1175.6 338.2 L1176.2 337.3 L1176.6 336.1 L1178.8 327.7 L1179.0 326.5 L1178.9 325.6 L1178.4 324.8 L1177.7 324.2 L1176.7 323.9 L1175.3 323.8 L1175.3 323.8 L1173.9 323.9 L1172.7 324.2 L1171.7 324.8 L1170.9 325.6 L1170.2 326.5 L1169.8 327.7 L1167.6 336.1 L1167.4 337.3 L1167.6 338.2 L1168.0 339.0 L1168.7 339.6 L1169.8 339.9 L1171.1 340.0 L1171.1 340.0 M1185.7 331.9 L1194.7 331.9 L1195.8 327.7 L1196.0 326.5 L1195.9 325.6 L1195.5 324.8 L1194.7 324.2 L1193.7 323.9 L1192.3 323.8 L1192.3 323.8 L1190.9 323.9 L1189.7 324.2 L1188.7 324.8 L1187.9 325.6 L1187.2 326.5 L1186.8 327.7 L1184.6 336.1 L1184.5 337.3 L1184.6 338.2 L1185.0 339.0 L1185.7 339.6 L1186.8 339.9 L1188.1 340.0 L1192.6 340.0"/>
<path d="M1048.4 364.6 L1052.5 349.0 L1057.0 349.0 L1058.3 349.1 L1059.4 349.4 L1060.1 349.9 L1060.6 350.7 L1060.7 351.6 L1060.5 352.8 L1057.5 364.6 M1070.0 364.6 L1071.4 364.5 L1072.7 364.2 L1073.7 363.7 L1074.5 362.9 L1075.1 362.0 L1075.5 360.8 L1077.6 352.8 L1077.8 351.6 L1077.7 350.7 L1077.2 349.9 L1076.5 349.4 L1075.4 349.1 L1074.1 349.0 L1074.1 349.0 L1072.7 349.1 L1071.5 349.4 L1070.4 349.9 L1069.6 350.7 L1069.0 351.6 L1068.6 352.8 L1066.5 360.8 L1066.3 362.0 L1066.4 362.9 L1066.9 363.7 L1067.6 364.2 L1068.7 364.5 L1070.0 364.6 L1070.0 364.6 M1082.6 364.6 L1086.7 349.0 L1089.8 361.2 L1099.2 349.0 L1095.2 364.6 M1105.2 356.8 L1114.3 356.8 L1115.3 352.8 L1115.5 351.6 L1115.4 350.7 L1115.0 349.9 L1114.2 349.4 L1113.2 349.1 L1111.8 349.0 L1111.8 349.0 L1110.4 349.1 L1109.2 349.4 L1108.2 349.9 L1107.3 350.7 L1106.7 351.6 L1106.3 352.8 L1104.2 360.8 L1104.0 362.0 L1104.2 362.9 L1104.6 363.7 L1105.3 364.2 L1106.4 364.5 L1107.7 364.6 L1112.3 364.6 M1124.4 349.0 L1121.3 360.8 L1121.1 362.0 L1121.3 362.9 L1121.7 363.7 L1122.4 364.2 L1123.5 364.5 L1124.8 364.6 L1133.4 364.6 M1130.9 349.0 L1126.9 364.6 M1137.5 349.0 L1133.4 364.6 L1135.2 364.6 L1134.2 368.4 M1145.2 356.8 L1154.3 356.8 L1155.3 352.8 L1155.5 351.6 L1155.4 350.7 L1154.9 349.9 L1154.2 349.4 L1153.1 349.1 L1151.8 349.0 L1151.8 349.0 L1150.4 349.1 L1149.2 349.4 L1148.1 349.9 L1147.3 350.7 L1146.7 351.6 L1146.3 352.8 L1144.2 360.8 L1144.0 362.0 L1144.1 362.9 L1144.6 363.7 L1145.3 364.2 L1146.4 364.5 L1147.7 364.6 L1152.3 364.6 M1160.3 364.6 L1164.4 349.0 M1169.4 364.6 L1173.4 349.0 M1162.3 356.8 L1171.4 356.8 M1181.5 349.0 L1178.4 360.8 L1178.2 362.0 L1178.3 362.9 L1178.8 363.7 L1179.5 364.2 L1180.6 364.5 L1181.9 364.6 L1186.5 364.6 M1190.5 349.0 L1186.5 364.6 M1196.5 356.8 L1205.6 356.8 L1206.6 352.8 L1206.8 351.6 L1206.7 350.7 L1206.2 349.9 L1205.5 349.4 L1204.4 349.1 L1203.1 349.0 L1203.1 349.0 L1201.7 349.1 L1200.5 349.4 L1199.4 349.9 L1198.6 350.7 L1198.0 351.6 L1197.6 352.8 L1195.5 360.8 L1195.3 362.0 L1195.4 362.9 L1195.9 363.7 L1196.6 364.2 L1197.7 364.5 L1199.0 364.6 L1203.6 364.6"/>
<path d="M1090.0 378.0 L1089.8 379.2 L1090.8 378.1 L1091.9 377.3 L1093.1 376.8 L1094.3 376.6 L1095.4 376.8 L1096.3 377.3 L1097.0 378.1 L1097.5 379.2 L1097.6 380.4 L1097.4 381.7 L1096.9 383.1 L1096.1 384.3 L1095.1 385.4 L1094.0 386.2 L1092.8 386.7 L1091.6 386.9 L1089.5 386.9 M1089.5 386.9 L1091.9 386.9 L1091.9 386.9 L1092.7 387.0 L1093.5 387.4 L1094.2 388.0 L1094.6 388.8 L1095.0 389.8 L1095.1 390.9 L1095.0 392.2 L1094.8 393.4 L1094.4 394.7 L1093.8 396.0 L1093.1 397.1 L1092.2 398.1 L1091.3 398.9 L1090.4 399.5 L1089.4 399.9 L1088.5 400.0 L1083.8 400.0 M1108.7 386.9 L1110.0 386.8 L1111.0 386.5 L1111.9 385.9 L1112.7 385.1 L1113.3 384.1 L1113.7 382.9 L1114.3 380.6 L1114.5 379.4 L1114.5 378.4 L1114.1 377.6 L1113.5 377.0 L1112.6 376.7 L1111.4 376.6 L1111.2 376.6 L1109.9 376.7 L1108.9 377.0 L1107.9 377.6 L1107.2 378.4 L1106.6 379.4 L1106.2 380.6 L1105.6 382.9 L1105.4 384.1 L1105.4 385.1 L1105.8 385.9 L1106.4 386.5 L1107.3 386.8 L1108.5 386.9 L1108.7 386.9 M1105.2 400.0 L1106.7 399.9 L1107.9 399.5 L1109.0 398.8 L1109.9 397.9 L1110.6 396.8 L1111.1 395.3 L1112.0 391.6 L1112.3 390.1 L1112.2 389.0 L1111.8 388.1 L1111.1 387.4 L1110.0 387.0 L1108.6 386.9 L1108.6 386.9 L1107.1 387.0 L1105.9 387.4 L1104.8 388.1 L1103.9 389.0 L1103.2 390.1 L1102.7 391.6 L1101.8 395.3 L1101.5 396.8 L1101.6 397.9 L1102.0 398.8 L1102.7 399.5 L1103.8 399.9 L1105.2 400.0 L1105.2 400.0 M1117.4 399.6 L1118.3 399.2 M1133.7 386.9 L1135.0 386.8 L1136.0 386.5 L1136.9 385.9 L1137.7 385.1 L1138.3 384.1 L1138.7 382.9 L1139.3 380.6 L1139.5 379.4 L1139.5 378.4 L1139.1 377.6 L1138.5 377.0 L1137.6 376.7 L1136.4 376.6 L1136.2 376.6 L1134.9 376.7 L1133.9 377.0 L1132.9 377.6 L1132.2 378.4 L1131.6 379.4 L1131.2 380.6 L1130.6 382.9 L1130.4 384.1 L1130.4 385.1 L1130.8 385.9 L1131.4 386.5 L1132.3 386.8 L1133.5 386.9 L1133.7 386.9 M1130.2 400.0 L1131.7 399.9 L1132.9 399.5 L1134.0 398.8 L1134.9 397.9 L1135.6 396.8 L1136.1 395.3 L1137.0 391.6 L1137.3 390.1 L1137.2 389.0 L1136.8 388.1 L1136.1 387.4 L1135.0 387.0 L1133.6 386.9 L1133.6 386.9 L1132.2 387.0 L1130.9 387.4 L1129.8 388.1 L1128.9 389.0 L1128.2 390.1 L1127.7 391.6 L1126.8 395.3 L1126.5 396.8 L1126.6 397.9 L1127.0 398.8 L1127.7 399.5 L1128.8 399.9 L1130.2 400.0 L1130.2 400.0 M1142.3 400.0 L1146.8 382.7 L1149.1 396.3 L1158.4 382.7 L1153.9 400.0 M1166.6 380.4 L1167.3 379.4 L1168.1 378.4 L1169.0 377.7 L1170.0 377.1 L1171.1 376.7 L1172.1 376.6 L1173.1 376.7 L1173.9 377.1 L1174.7 377.7 L1175.2 378.4 L1175.5 379.4 L1175.6 380.4 L1175.5 381.5 L1175.1 382.6 L1161.4 400.0 L1170.7 400.0"/>
<path d="M489.8 595.9 L484.1 617.7 M489.8 595.9 L482.1 601.6 M494.5 606.8 L504.5 606.8 M515.1 597.2 L514.9 598.3 L515.9 597.3 L517.0 596.5 L518.3 596.1 L519.5 595.9 L520.6 596.1 L521.6 596.5 L522.3 597.3 L522.7 598.3 L522.9 599.5 L522.7 600.7 L522.3 601.9 L521.5 603.1 L520.5 604.1 L519.4 604.8 L518.2 605.3 L517.0 605.5 L514.8 605.5 M514.8 605.5 L517.2 605.5 L517.2 605.5 L518.1 605.6 L518.9 606.0 L519.6 606.5 L520.1 607.3 L520.5 608.2 L520.6 609.3 L520.6 610.4 L520.4 611.6 L520.0 612.8 L519.4 613.9 L518.7 615.0 L517.9 615.9 L516.9 616.7 L516.0 617.2 L515.0 617.6 L514.0 617.7 L509.3 617.7"/>
<path d="M449.1 641.8 L453.0 626.7 L465.3 626.7 L465.5 626.7 L465.7 626.8 L465.8 626.9 L465.9 627.0 L465.9 627.1 L465.9 627.3 L462.1 641.8 M456.9 626.7 L456.9 626.7 L457.7 626.8 L458.3 626.9 L458.8 627.2 L459.0 627.6 L459.1 628.1 L459.0 628.7 L455.6 641.8 M474.4 626.7 L471.4 638.1 L471.2 639.2 L471.4 640.2 L471.9 640.9 L472.6 641.4 L473.7 641.7 L475.1 641.8 L479.8 641.8 M483.8 626.7 L479.5 643.0 L479.1 644.1 L478.5 645.1 L477.6 645.8 L476.6 646.3 L475.3 646.6 L473.9 646.7 L469.7 646.7 M501.5 626.7 L496.8 626.7 L495.3 626.8 L494.1 627.1 L493.0 627.6 L492.2 628.3 L491.6 629.3 L491.1 630.4 L489.1 638.1 L489.0 639.2 L489.1 640.2 L489.6 640.9 L490.4 641.4 L491.4 641.7 L492.8 641.8 L497.5 641.8 M501.5 626.7 L497.5 641.8 M505.9 641.8 L513.4 626.7 L519.2 626.7 L515.2 641.8 M525.5 634.2 L534.9 634.2 L535.9 630.4 L536.1 629.3 L535.9 628.3 L535.5 627.6 L534.7 627.1 L533.6 626.8 L532.2 626.7 L532.2 626.7 L530.7 626.8 L529.5 627.1 L528.4 627.6 L527.6 628.3 L527.0 629.3 L526.5 630.4 L524.5 638.1 L524.4 639.2 L524.5 640.2 L525.0 640.9 L525.8 641.4 L526.9 641.7 L528.3 641.8 L533.0 641.8 M541.3 641.8 L545.2 626.7 L557.5 626.7 L557.7 626.7 L557.9 626.8 L558.0 626.9 L558.1 627.0 L558.1 627.1 L558.1 627.3 L554.3 641.8 M549.1 626.7 L549.1 626.7 L549.9 626.8 L550.5 626.9 L550.9 627.2 L551.2 627.6 L551.3 628.1 L551.2 628.7 L547.8 641.8"/>
<path d="M482.8 653.1 L477.4 674.1 M482.8 653.1 L475.5 658.6 M484.7 673.8 L485.6 673.4 M499.6 665.3 L501.0 665.2 L502.2 664.8 L503.3 664.2 L504.1 663.4 L504.8 662.4 L505.2 661.1 L506.2 657.3 L506.4 656.0 L506.3 655.0 L505.9 654.1 L505.2 653.6 L504.1 653.2 L502.7 653.1 L502.7 653.1 L501.3 653.2 L500.1 653.6 L499.1 654.1 L498.2 655.0 L497.6 656.0 L497.1 657.3 L496.1 661.1 L495.9 662.4 L496.0 663.4 L496.4 664.2 L497.2 664.8 L498.2 665.2 L499.6 665.3 L499.6 665.3 M505.1 661.5 L502.9 669.9 L502.9 669.9 L502.6 670.7 L502.2 671.5 L501.6 672.2 L500.8 672.9 L500.0 673.4 L499.1 673.8 L498.2 674.0 L497.3 674.1 L492.7 674.1 M509.1 674.1 L513.2 658.6 L515.7 670.7 L524.5 658.6 L520.5 674.1 M532.5 656.5 L533.1 655.6 L533.9 654.8 L534.8 654.1 L535.8 653.5 L536.8 653.2 L537.8 653.1 L538.8 653.2 L539.6 653.5 L540.3 654.1 L540.9 654.8 L541.2 655.6 L541.3 656.5 L541.2 657.5 L540.9 658.5 L527.8 674.1 L536.9 674.1"/>
<path d="M621.7 773.8 L623.2 773.7 L624.4 773.3 L625.5 772.7 L626.4 771.9 L627.1 770.8 L627.6 769.4 L631.0 756.3 L631.2 754.9 L631.1 753.8 L630.7 753.0 L629.9 752.4 L628.8 752.0 L627.4 751.9 L627.4 751.9 L625.9 752.0 L624.6 752.4 L623.5 753.0 L622.6 753.8 L621.9 754.9 L621.4 756.3 L618.0 769.4 L617.8 770.8 L617.9 771.9 L618.4 772.7 L619.1 773.3 L620.2 773.7 L621.7 773.8 L621.7 773.8 M634.2 773.5 L635.1 773.0 M654.5 751.9 L644.3 767.2 L653.9 767.2 M652.7 761.5 L649.5 773.8 M675.1 751.9 L666.7 751.9 L663.7 760.9 L668.0 760.9 L668.0 760.9 L668.9 761.0 L669.7 761.4 L670.4 762.0 L670.9 762.8 L671.2 763.8 L671.4 764.9 L671.3 766.1 L671.1 767.3 L670.7 768.6 L670.1 769.8 L669.3 770.9 L668.5 771.9 L667.6 772.7 L666.6 773.3 L665.6 773.7 L664.6 773.8 L659.8 773.8"/>
<path d="M365.3 812.6 L366.6 812.5 L367.6 812.2 L368.5 811.7 L369.3 811.1 L369.8 810.2 L370.2 809.2 L370.7 807.2 L370.9 806.2 L370.7 805.4 L370.4 804.7 L369.7 804.3 L368.8 804.0 L367.6 803.9 L367.4 803.9 L366.1 804.0 L365.0 804.3 L364.1 804.7 L363.4 805.4 L362.9 806.2 L362.5 807.2 L362.0 809.2 L361.8 810.2 L361.9 811.1 L362.3 811.7 L363.0 812.2 L363.9 812.5 L365.1 812.6 L365.3 812.6 M362.4 823.6 L363.8 823.5 L365.1 823.2 L366.1 822.6 L367.0 821.8 L367.6 820.9 L368.1 819.7 L368.9 816.5 L369.1 815.3 L368.9 814.3 L368.5 813.6 L367.7 813.0 L366.6 812.7 L365.2 812.6 L365.2 812.6 L363.8 812.7 L362.5 813.0 L361.4 813.6 L360.6 814.3 L359.9 815.3 L359.5 816.5 L358.7 819.7 L358.5 820.9 L358.6 821.8 L359.1 822.6 L359.9 823.2 L360.9 823.5 L362.4 823.6 L362.4 823.6 M374.6 823.3 L375.6 822.9 M387.6 823.6 L389.0 823.5 L390.3 823.2 L391.4 822.6 L392.2 821.8 L392.8 820.9 L393.3 819.7 L396.4 807.8 L396.5 806.6 L396.4 805.7 L396.0 804.9 L395.2 804.3 L394.1 804.0 L392.7 803.9 L392.7 803.9 L391.2 804.0 L390.0 804.3 L388.9 804.9 L388.1 805.7 L387.4 806.6 L387.0 807.8 L383.9 819.7 L383.7 820.9 L383.9 821.8 L384.3 822.6 L385.1 823.2 L386.2 823.5 L387.6 823.6 L387.6 823.6 M411.0 803.9 L401.3 817.7 L410.7 817.7 M409.5 812.6 L406.6 823.6"/>
<path d="M784.2 878.5 L805.1 883.9 M784.2 878.5 L789.6 885.8 M804.8 876.6 L804.4 875.7 M793.4 860.9 L793.3 859.7 L793.0 858.7 L792.5 857.8 L791.8 857.1 L790.9 856.6 L789.8 856.2 L787.8 855.6 L786.7 855.5 L785.8 855.5 L785.1 855.9 L784.6 856.5 L784.3 857.4 L784.2 858.6 L784.2 858.8 L784.3 860.0 L784.6 861.0 L785.1 861.9 L785.8 862.6 L786.7 863.2 L787.8 863.6 L789.8 864.1 L790.9 864.3 L791.8 864.2 L792.5 863.8 L793.0 863.2 L793.3 862.3 L793.4 861.2 L793.4 860.9 M805.1 864.1 L805.0 862.7 L804.6 861.5 L804.1 860.4 L803.2 859.6 L802.2 858.9 L800.9 858.5 L797.6 857.6 L796.3 857.4 L795.3 857.5 L794.4 857.9 L793.9 858.7 L793.5 859.7 L793.4 861.1 L793.4 861.1 L793.5 862.5 L793.9 863.7 L794.4 864.7 L795.3 865.6 L796.3 866.2 L797.6 866.7 L800.9 867.5 L802.2 867.8 L803.2 867.6 L804.1 867.2 L804.6 866.5 L805.0 865.5 L805.1 864.1 L805.1 864.1 M805.1 847.8 L805.0 846.4 L804.6 845.1 L804.1 844.1 L803.2 843.3 L802.2 842.6 L800.9 842.2 L788.4 838.9 L787.1 838.7 L786.1 838.8 L785.2 839.2 L784.7 840.0 L784.3 841.0 L784.2 842.4 L784.2 842.4 L784.3 843.8 L784.7 845.0 L785.2 846.0 L786.1 846.9 L787.1 847.5 L788.4 848.0 L800.9 851.2 L802.2 851.4 L803.2 851.3 L804.1 850.9 L804.6 850.2 L805.0 849.1 L805.1 847.8 L805.1 847.8"/>
<path d="M848.9 835.8 L866.8 840.4 M848.9 835.8 L853.6 842.4 M866.5 833.6 L866.2 832.8 M848.9 813.3 L848.9 813.3 L849.0 814.4 L849.3 815.5 L849.9 816.7 L850.6 817.9 L851.5 819.0 L852.6 820.1 L853.8 821.2 L855.2 822.1 L856.6 823.0 L858.2 823.8 L859.8 824.4 L861.4 824.9 M866.8 822.1 L866.7 820.8 L866.4 819.7 L865.9 818.7 L865.2 818.0 L864.3 817.4 L863.2 817.0 L860.0 816.1 L858.9 816.0 L858.0 816.1 L857.3 816.5 L856.8 817.2 L856.5 818.1 L856.4 819.4 L856.4 819.4 L856.5 820.7 L856.8 821.8 L857.3 822.8 L858.0 823.5 L858.9 824.1 L860.0 824.5 L863.2 825.4 L864.3 825.5 L865.2 825.4 L865.9 825.0 L866.4 824.3 L866.7 823.4 L866.8 822.1 L866.8 822.1 M848.9 798.2 L848.9 798.2 L849.0 799.3 L849.3 800.5 L849.9 801.7 L850.6 802.8 L851.5 804.0 L852.6 805.1 L853.8 806.1 L855.2 807.1 L856.6 807.9 L858.2 808.7 L859.8 809.3 L861.4 809.8 M866.8 807.0 L866.7 805.7 L866.4 804.6 L865.9 803.7 L865.2 802.9 L864.3 802.3 L863.2 801.9 L860.0 801.1 L858.9 800.9 L858.0 801.0 L857.3 801.4 L856.8 802.1 L856.5 803.1 L856.4 804.3 L856.4 804.3 L856.5 805.6 L856.8 806.8 L857.3 807.7 L858.0 808.5 L858.9 809.1 L860.0 809.5 L863.2 810.3 L864.3 810.5 L865.2 810.3 L865.9 809.9 L866.4 809.3 L866.7 808.3 L866.8 807.0 L866.8 807.0"/>
<path d="M862.3 898.2 L856.6 920.2 M862.3 898.2 L855.0 903.9 M863.8 919.9 L864.6 919.4 M876.5 901.8 L877.1 900.8 L877.9 899.9 L878.8 899.2 L879.7 898.7 L880.7 898.3 L881.7 898.2 L882.7 898.3 L883.5 898.7 L884.2 899.2 L884.7 899.9 L885.0 900.8 L885.1 901.8 L885.0 902.8 L884.6 903.9 L871.6 920.2 L880.5 920.2 M902.2 898.2 L894.4 898.2 L891.4 907.2 L895.4 907.2 L895.4 907.2 L896.2 907.3 L897.0 907.7 L897.6 908.3 L898.1 909.1 L898.4 910.1 L898.5 911.2 L898.4 912.4 L898.2 913.7 L897.8 915.0 L897.2 916.2 L896.5 917.3 L895.7 918.3 L894.8 919.1 L893.9 919.7 L892.9 920.1 L892.0 920.2 L887.6 920.2"/>
<path d="M893.7 946.9 L887.7 969.8 M893.7 946.9 L886.2 952.9 M895.1 969.5 L896.1 969.0 M915.1 946.9 L904.9 962.9 L914.1 962.9 M913.1 957.0 L909.8 969.8 M931.5 946.9 L925.5 969.8 M931.5 946.9 L924.0 952.9"/>
<path d="M819.0 989.7 L818.9 988.3 L818.5 987.0 L817.9 986.0 L817.1 985.2 L816.1 984.5 L814.8 984.1 L802.0 980.8 L800.7 980.5 L799.7 980.6 L798.9 981.1 L798.3 981.8 L797.9 982.8 L797.8 984.2 L797.8 984.2 L797.9 985.6 L798.3 986.8 L798.9 987.8 L799.7 988.7 L800.7 989.3 L802.0 989.8 L814.8 993.1 L816.1 993.3 L817.1 993.2 L817.9 992.8 L818.5 992.1 L818.9 991.0 L819.0 989.7 L819.0 989.7 M818.7 977.9 L818.3 977.0 M797.8 958.6 L819.0 964.1 M797.8 958.6 L803.3 965.9 M799.1 951.2 L800.1 951.4 L799.2 950.4 L798.4 949.3 L798.0 948.2 L797.8 947.0 L798.0 946.0 L798.4 945.1 L799.2 944.4 L800.1 943.9 L801.3 943.8 L802.5 944.0 L803.7 944.4 L804.8 945.1 L805.8 946.1 L806.5 947.2 L807.0 948.3 L807.1 949.5 L807.1 951.5 M807.1 951.5 L807.1 949.2 L807.1 949.2 L807.2 948.4 L807.6 947.6 L808.1 947.0 L808.9 946.5 L809.8 946.2 L810.8 946.0 L811.9 946.1 L813.1 946.3 L814.2 946.7 L815.3 947.2 L816.4 947.9 L817.3 948.7 L818.0 949.6 L818.5 950.5 L818.9 951.4 L819.0 952.3 L819.0 956.8"/>
<path d="M348.6 885.2 L343.2 906.1 M348.6 885.2 L341.7 890.6 M352.6 895.6 L361.5 895.6 M370.2 888.6 L370.7 887.7 L371.5 886.8 L372.3 886.2 L373.2 885.6 L374.2 885.3 L375.1 885.2 L376.0 885.3 L376.8 885.6 L377.4 886.2 L377.9 886.8 L378.2 887.7 L378.3 888.6 L378.2 889.6 L377.9 890.6 L365.5 906.1 L373.9 906.1"/>
<path d="M203.9 918.5 L199.3 918.5 L197.9 918.6 L196.7 918.9 L195.7 919.4 L194.9 920.1 L194.3 921.0 L193.9 922.1 L191.9 929.9 L191.7 931.0 L191.8 931.9 L192.3 932.6 L193.0 933.1 L194.1 933.4 L195.4 933.5 L200.0 933.5 M203.9 918.5 L200.0 933.5 M220.3 921.3 L215.7 921.3 L214.3 921.4 L213.1 921.7 L212.1 922.2 L211.3 923.0 L210.7 923.9 L210.2 925.0 L209.0 929.9 L208.8 931.0 L209.0 931.9 L209.4 932.6 L210.1 933.1 L211.2 933.4 L212.6 933.5 L217.1 933.5 M217.1 933.5 L221.3 917.3 L221.3 917.3 L221.4 916.4 L221.3 915.6 L220.9 914.8 L220.3 914.2 L219.5 913.7 L218.6 913.4 L217.5 913.2 L216.4 913.3 M225.1 933.5 L229.0 918.5 L232.3 930.3 L241.6 918.5 L237.7 933.5 M249.7 918.5 L246.7 929.9 L246.6 931.0 L246.7 931.9 L247.1 932.6 L247.9 933.1 L249.0 933.4 L250.3 933.5 L254.8 933.5 M258.7 918.5 L254.8 933.5 M262.9 933.5 L266.8 918.5 M272.0 933.5 L275.9 918.5 M264.8 926.0 L273.9 926.0 M283.9 918.5 L281.0 929.9 L280.8 931.0 L280.9 931.9 L281.4 932.6 L282.1 933.1 L283.2 933.4 L284.5 933.5 L289.1 933.5 M293.0 918.5 L289.1 933.5 M310.1 918.5 L305.5 918.5 L304.1 918.6 L302.9 918.9 L301.9 919.4 L301.1 920.1 L300.5 921.0 L300.1 922.1 L298.1 929.9 L297.9 931.0 L298.0 931.9 L298.5 932.6 L299.2 933.1 L300.3 933.4 L301.6 933.5 L306.2 933.5 M314.2 933.5 L318.1 918.5 L330.0 918.5 L330.2 918.5 L330.4 918.6 L330.5 918.7 L330.6 918.8 L330.6 918.9 L330.6 919.1 L326.8 933.5 M321.9 918.5 L321.9 918.5 L322.7 918.6 L323.2 918.7 L323.7 919.0 L323.9 919.4 L324.0 919.9 L323.9 920.5 L320.5 933.5 M338.8 918.5 L333.6 938.4 M338.8 918.5 L343.3 918.5 L344.7 918.6 L345.7 918.9 L346.5 919.4 L346.9 920.1 L347.0 921.0 L346.9 922.1 L344.9 929.9 L344.5 931.0 L343.8 931.9 L343.0 932.6 L342.0 933.1 L340.8 933.4 L339.4 933.5 L334.9 933.5 M364.9 918.5 L360.4 918.5 L359.0 918.6 L357.8 918.9 L356.8 919.4 L356.0 920.1 L355.3 921.0 L354.9 922.1 L352.9 929.9 L352.8 931.0 L352.9 931.9 L353.4 932.6 L354.1 933.1 L355.2 933.4 L356.5 933.5 L361.0 933.5 M364.9 918.5 L361.0 933.5 M369.1 933.5 L373.0 918.5 L384.8 918.5 L385.0 918.5 L385.2 918.6 L385.4 918.7 L385.4 918.8 L385.4 918.9 L385.4 919.1 L381.7 933.5 M376.8 918.5 L376.8 918.5 L377.5 918.6 L378.1 918.7 L378.5 919.0 L378.8 919.4 L378.9 919.9 L378.8 920.5 L375.4 933.5 M393.6 918.5 L390.7 929.9 L390.5 931.0 L390.7 931.9 L391.1 932.6 L391.9 933.1 L392.9 933.4 L394.3 933.5 L398.8 933.5 M402.7 918.5 L398.8 933.5 M411.4 933.5 L412.8 933.4 L414.0 933.1 L415.0 932.6 L415.8 931.9 L416.4 931.0 L416.9 929.9 L418.9 922.1 L419.0 921.0 L418.9 920.1 L418.4 919.4 L417.7 918.9 L416.6 918.6 L415.3 918.5 L415.3 918.5 L413.9 918.6 L412.7 918.9 L411.6 919.4 L410.8 920.1 L410.2 921.0 L409.8 922.1 L407.8 929.9 L407.6 931.0 L407.8 931.9 L408.2 932.6 L409.0 933.1 L410.0 933.4 L411.4 933.5 L411.4 933.5 M419.7 916.3 L419.8 915.8 L419.8 915.3 L419.7 914.8 L419.5 914.4 L419.2 914.0 L418.8 913.7 L418.4 913.5 L417.9 913.4 L417.3 913.3 L416.8 913.4 L416.2 913.5 L415.7 913.7 L415.1 914.0 L414.7 914.4 L414.2 914.8 L413.9 915.3 L413.6 915.8 L413.4 916.3 L413.3 916.8 L413.4 917.3 L413.5 917.7 L413.7 918.2 L414.0 918.5 L414.3 918.8 L414.8 919.0 L415.3 919.2 L415.8 919.2 L416.4 919.2 L416.9 919.0 L417.5 918.8 L418.0 918.5 L418.5 918.2 L418.9 917.7 L419.3 917.3 L419.5 916.8 L419.7 916.3 M424.0 933.5 L427.9 918.5 M433.0 933.5 L436.9 918.5 M425.9 926.0 L435.0 926.0 M445.6 933.5 L447.0 933.4 L448.2 933.1 L449.2 932.6 L450.0 931.9 L450.7 931.0 L451.1 929.9 L453.1 922.1 L453.2 921.0 L453.1 920.1 L452.7 919.4 L451.9 918.9 L450.9 918.6 L449.5 918.5 L449.5 918.5 L448.1 918.6 L446.9 918.9 L445.9 919.4 L445.1 920.1 L444.4 921.0 L444.0 922.1 L442.0 929.9 L441.9 931.0 L442.0 931.9 L442.4 932.6 L443.2 933.1 L444.2 933.4 L445.6 933.5 L445.6 933.5 M460.8 923.4 L471.4 923.4 M476.8 933.5 L480.7 918.5 L492.5 918.5 L492.8 918.5 L492.9 918.6 L493.1 918.7 L493.1 918.8 L493.2 918.9 L493.1 919.1 L489.4 933.5 M484.5 918.5 L484.5 918.5 L485.2 918.6 L485.8 918.7 L486.2 919.0 L486.5 919.4 L486.6 919.9 L486.5 920.5 L483.1 933.5 M502.0 933.5 L503.4 933.4 L504.6 933.1 L505.6 932.6 L506.4 931.9 L507.0 931.0 L507.5 929.9 L509.5 922.1 L509.6 921.0 L509.5 920.1 L509.0 919.4 L508.3 918.9 L507.2 918.6 L505.9 918.5 L505.9 918.5 L504.5 918.6 L503.3 918.9 L502.2 919.4 L501.4 920.1 L500.8 921.0 L500.4 922.1 L498.4 929.9 L498.2 931.0 L498.4 931.9 L498.8 932.6 L499.6 933.1 L500.6 933.4 L502.0 933.5 L502.0 933.5 M518.5 918.5 L513.3 938.4 M518.5 918.5 L523.0 918.5 L524.3 918.6 L525.4 918.9 L526.1 919.4 L526.6 920.1 L526.7 921.0 L526.6 922.1 L524.6 929.9 L524.2 931.0 L523.5 931.9 L522.7 932.6 L521.7 933.1 L520.5 933.4 L519.1 933.5 L514.6 933.5 M535.2 921.0 L535.9 920.2 L536.9 919.4 L538.0 918.9 L539.2 918.6 L540.3 918.5 L541.4 918.7 L542.4 919.1 L543.1 919.7 L543.6 920.5 L543.7 921.4 L543.6 922.4 L543.2 923.3 L531.7 933.5 L540.7 933.5 M553.3 933.5 L554.7 933.4 L555.9 933.1 L556.9 932.6 L557.8 931.9 L558.4 931.0 L558.8 929.9 L560.8 922.1 L561.0 921.0 L560.8 920.1 L560.4 919.4 L559.6 918.9 L558.6 918.6 L557.2 918.5 L557.2 918.5 L555.8 918.6 L554.6 918.9 L553.6 919.4 L552.8 920.1 L552.2 921.0 L551.7 922.1 L549.7 929.9 L549.6 931.0 L549.7 931.9 L550.2 932.6 L550.9 933.1 L552.0 933.4 L553.3 933.5 L553.3 933.5 M570.4 933.5 L571.8 933.4 L573.1 933.1 L574.1 932.6 L574.9 931.9 L575.5 931.0 L575.9 929.9 L577.9 922.1 L578.1 921.0 L577.9 920.1 L577.5 919.4 L576.7 918.9 L575.7 918.6 L574.3 918.5 L574.3 918.5 L572.9 918.6 L571.7 918.9 L570.7 919.4 L569.9 920.1 L569.3 921.0 L568.8 922.1 L566.8 929.9 L566.7 931.0 L566.8 931.9 L567.3 932.6 L568.0 933.1 L569.1 933.4 L570.4 933.5 L570.4 933.5 M578.8 916.3 L578.9 915.8 L578.9 915.3 L578.7 914.8 L578.5 914.4 L578.2 914.0 L577.9 913.7 L577.4 913.5 L576.9 913.4 L576.4 913.3 L575.8 913.4 L575.3 913.5 L574.7 913.7 L574.2 914.0 L573.7 914.4 L573.3 914.8 L572.9 915.3 L572.7 915.8 L572.5 916.3 L572.4 916.8 L572.4 917.3 L572.5 917.7 L572.7 918.2 L573.0 918.5 L573.4 918.8 L573.8 919.0 L574.3 919.2 L574.9 919.2 L575.4 919.2 L576.0 919.0 L576.5 918.8 L577.1 918.5 L577.6 918.2 L578.0 917.7 L578.3 917.3 L578.6 916.8 L578.8 916.3 M587.5 933.5 L589.0 933.4 L590.2 933.1 L591.2 932.6 L592.0 931.9 L592.6 931.0 L593.0 929.9 L595.0 922.1 L595.2 921.0 L595.0 920.1 L594.6 919.4 L593.9 918.9 L592.8 918.6 L591.4 918.5 L591.4 918.5 L590.0 918.6 L588.8 918.9 L587.8 919.4 L587.0 920.1 L586.4 921.0 L586.0 922.1 L584.0 929.9 L583.8 931.0 L583.9 931.9 L584.4 932.6 L585.1 933.1 L586.2 933.4 L587.5 933.5 L587.5 933.5 M602.1 926.0 L611.1 926.0 L612.1 922.1 L612.3 921.0 L612.2 920.1 L611.7 919.4 L611.0 918.9 L609.9 918.6 L608.6 918.5 L608.6 918.5 L607.1 918.6 L605.9 918.9 L604.9 919.4 L604.1 920.1 L603.5 921.0 L603.1 922.1 L601.1 929.9 L600.9 931.0 L601.0 931.9 L601.5 932.6 L602.2 933.1 L603.3 933.4 L604.7 933.5 L609.2 933.5"/>
<path d="M305.7 958.1 L309.4 943.9 L313.9 943.9 L315.2 944.0 L316.3 944.3 L317.0 944.8 L317.5 945.4 L317.6 946.3 L317.5 947.4 L314.7 958.1 M327.1 958.1 L328.5 958.0 L329.7 957.7 L330.7 957.2 L331.5 956.6 L332.1 955.7 L332.5 954.6 L334.4 947.4 L334.5 946.3 L334.4 945.4 L333.9 944.8 L333.2 944.3 L332.2 944.0 L330.8 943.9 L330.8 943.9 L329.4 944.0 L328.2 944.3 L327.2 944.8 L326.4 945.4 L325.8 946.3 L325.4 947.4 L323.5 954.6 L323.4 955.7 L323.5 956.6 L324.0 957.2 L324.7 957.7 L325.8 958.0 L327.1 958.1 L327.1 958.1 M339.6 958.1 L343.3 943.9 L346.6 955.0 L355.7 943.9 L352.0 958.1 M361.8 951.0 L370.8 951.0 L371.7 947.4 L371.9 946.3 L371.8 945.4 L371.3 944.8 L370.6 944.3 L369.5 944.0 L368.2 943.9 L368.2 943.9 L366.8 944.0 L365.6 944.3 L364.6 944.8 L363.8 945.4 L363.2 946.3 L362.8 947.4 L360.9 954.6 L360.7 955.7 L360.9 956.6 L361.3 957.2 L362.1 957.7 L363.1 958.0 L364.5 958.1 L369.0 958.1 M380.6 943.9 L377.8 954.6 L377.7 955.7 L377.8 956.6 L378.3 957.2 L379.0 957.7 L380.1 958.0 L381.4 958.1 L389.9 958.1 M387.1 943.9 L383.4 958.1 M393.6 943.9 L389.9 958.1 L391.6 958.1 L390.7 961.6 M401.4 951.0 L410.4 951.0 L411.3 947.4 L411.5 946.3 L411.3 945.4 L410.9 944.8 L410.2 944.3 L409.1 944.0 L407.8 943.9 L407.8 943.9 L406.4 944.0 L405.2 944.3 L404.2 944.8 L403.4 945.4 L402.8 946.3 L402.4 947.4 L400.5 954.6 L400.3 955.7 L400.5 956.6 L400.9 957.2 L401.7 957.7 L402.7 958.0 L404.1 958.1 L408.6 958.1 M416.5 958.1 L420.2 943.9 M425.5 958.1 L429.2 943.9 M418.4 951.0 L427.3 951.0 M437.1 943.9 L434.4 954.6 L434.2 955.7 L434.4 956.6 L434.8 957.2 L435.5 957.7 L436.6 958.0 L437.9 958.1 L442.4 958.1 M446.1 943.9 L442.4 958.1 M452.2 951.0 L461.2 951.0 L462.2 947.4 L462.3 946.3 L462.2 945.4 L461.7 944.8 L461.0 944.3 L459.9 944.0 L458.6 943.9 L458.6 943.9 L457.2 944.0 L456.0 944.3 L455.0 944.8 L454.2 945.4 L453.6 946.3 L453.2 947.4 L451.3 954.6 L451.1 955.7 L451.3 956.6 L451.7 957.2 L452.5 957.7 L453.5 958.0 L454.9 958.1 L459.4 958.1"/>
<path d="M341.0 966.5 L331.2 981.2 L340.4 981.2 M339.3 975.7 L336.3 987.5 M360.9 966.5 L352.8 966.5 L349.9 975.1 L354.0 975.1 L354.0 975.1 L354.9 975.2 L355.7 975.6 L356.3 976.2 L356.8 976.9 L357.2 977.9 L357.3 978.9 L357.3 980.1 L357.1 981.3 L356.7 982.5 L356.1 983.7 L355.4 984.7 L354.6 985.7 L353.7 986.5 L352.7 987.0 L351.8 987.4 L350.8 987.5 L346.2 987.5 M362.9 987.2 L363.8 986.8 M375.7 987.5 L377.1 987.4 L378.4 987.0 L379.4 986.5 L380.3 985.6 L380.9 984.6 L381.4 983.3 L384.7 970.7 L384.9 969.4 L384.8 968.4 L384.3 967.5 L383.6 967.0 L382.5 966.6 L381.1 966.5 L381.1 966.5 L379.7 966.6 L378.4 967.0 L377.4 967.5 L376.5 968.4 L375.9 969.4 L375.4 970.7 L372.1 983.3 L371.9 984.6 L372.0 985.6 L372.5 986.5 L373.2 987.0 L374.3 987.4 L375.7 987.5 L375.7 987.5 M387.7 987.5 L391.7 972.0 L394.3 984.1 L403.3 972.0 L399.2 987.5 M411.4 969.9 L412.0 969.0 L412.8 968.2 L413.7 967.5 L414.7 966.9 L415.7 966.6 L416.7 966.5 L417.7 966.6 L418.6 966.9 L419.3 967.5 L419.8 968.2 L420.2 969.0 L420.3 969.9 L420.2 970.9 L419.9 971.9 L406.6 987.5 L415.9 987.5"/>
<path d="M103.7 983.8 L103.7 991.6 L113.3 994.8 L113.3 990.7 L113.3 990.7 L113.4 989.9 L113.8 989.2 L114.5 988.6 L115.3 988.1 L116.4 987.8 L117.6 987.7 L118.9 987.8 L120.2 988.1 L121.5 988.5 L122.8 989.1 L124.0 989.8 L125.1 990.7 L125.9 991.6 L126.6 992.5 L127.0 993.4 L127.1 994.3 L127.1 998.8 M126.7 982.6 L126.3 981.7 M107.5 969.6 L106.5 968.9 L105.5 968.1 L104.8 967.2 L104.2 966.3 L103.8 965.2 L103.7 964.2 L103.8 963.3 L104.2 962.5 L104.8 961.8 L105.5 961.3 L106.5 961.0 L107.5 960.9 L108.6 961.1 L109.7 961.4 L127.1 974.8 L127.1 965.9 M103.7 943.7 L103.7 943.7 L103.8 944.9 L104.3 946.2 L104.9 947.4 L105.9 948.7 L107.1 950.0 L108.5 951.3 L110.1 952.5 L111.9 953.6 L113.8 954.6 L115.8 955.5 L117.9 956.3 L120.1 956.9 M127.1 954.3 L127.0 952.9 L126.6 951.6 L125.9 950.6 L125.0 949.7 L123.9 949.1 L122.4 948.6 L118.2 947.5 L116.8 947.2 L115.6 947.3 L114.7 947.7 L114.0 948.4 L113.7 949.4 L113.5 950.7 L113.5 950.7 L113.7 952.1 L114.0 953.3 L114.7 954.4 L115.6 955.2 L116.8 955.9 L118.2 956.4 L122.4 957.5 L123.9 957.7 L125.0 957.7 L125.9 957.3 L126.6 956.6 L127.0 955.6 L127.1 954.3 L127.1 954.3"/>
<path d="M668.6 980.4 L668.6 988.1 L678.0 991.2 L678.0 987.3 L678.0 987.3 L678.2 986.5 L678.5 985.7 L679.2 985.1 L680.0 984.7 L681.0 984.4 L682.2 984.3 L683.5 984.4 L684.8 984.6 L686.1 985.1 L687.4 985.7 L688.6 986.4 L689.6 987.2 L690.5 988.1 L691.1 989.0 L691.5 989.9 L691.6 990.8 L691.6 995.2 M691.3 979.3 L690.8 978.4 M672.4 966.4 L671.3 965.8 L670.4 965.0 L669.6 964.2 L669.1 963.2 L668.7 962.2 L668.6 961.2 L668.7 960.3 L669.1 959.5 L669.6 958.8 L670.4 958.3 L671.3 958.0 L672.4 957.9 L673.4 958.1 L674.5 958.4 L691.6 971.6 L691.6 962.8 M668.6 941.0 L668.6 941.0 L668.7 942.2 L669.1 943.4 L669.8 944.7 L670.8 946.0 L671.9 947.2 L673.3 948.4 L674.9 949.6 L676.6 950.7 L678.5 951.7 L680.5 952.6 L682.6 953.4 L684.7 954.0 M691.6 951.4 L691.5 950.0 L691.1 948.8 L690.4 947.8 L689.6 946.9 L688.4 946.3 L687.0 945.8 L682.9 944.7 L681.5 944.5 L680.3 944.5 L679.4 944.9 L678.8 945.6 L678.4 946.6 L678.3 947.9 L678.3 947.9 L678.4 949.3 L678.8 950.5 L679.4 951.5 L680.3 952.3 L681.5 953.0 L682.9 953.5 L687.0 954.6 L688.4 954.8 L689.6 954.7 L690.4 954.4 L691.1 953.7 L691.5 952.7 L691.6 951.4 L691.6 951.4"/>
<path d="M230.2 1061.2 L224.5 1083.0 M228.0 1069.5 L232.4 1069.5 L233.7 1069.6 L234.7 1069.9 L235.4 1070.5 L235.8 1071.2 L235.9 1072.2 L235.7 1073.4 L233.2 1083.0 M242.9 1075.6 L250.7 1075.6 M244.4 1069.9 L252.2 1069.9 M261.5 1064.8 L262.1 1063.8 L262.9 1062.9 L263.9 1062.2 L264.9 1061.6 L266.0 1061.3 L267.1 1061.2 L268.1 1061.3 L269.0 1061.6 L269.8 1062.2 L270.3 1062.9 L270.7 1063.8 L270.8 1064.8 L270.7 1065.8 L270.4 1066.8 L256.5 1083.0 L266.3 1083.0 M274.1 1082.7 L275.1 1082.2 M289.9 1073.8 L291.4 1073.7 L292.7 1073.4 L293.8 1072.8 L294.7 1071.9 L295.4 1070.8 L295.9 1069.5 L296.9 1065.6 L297.1 1064.2 L297.0 1063.1 L296.5 1062.3 L295.7 1061.7 L294.6 1061.3 L293.2 1061.2 L293.2 1061.2 L291.7 1061.3 L290.3 1061.7 L289.2 1062.3 L288.3 1063.1 L287.7 1064.2 L287.2 1065.6 L286.2 1069.5 L285.9 1070.8 L286.1 1071.9 L286.5 1072.8 L287.3 1073.4 L288.4 1073.7 L289.9 1073.8 L289.9 1073.8 M295.8 1069.9 L293.5 1078.6 L293.5 1078.6 L293.2 1079.5 L292.7 1080.3 L292.0 1081.1 L291.3 1081.7 L290.4 1082.3 L289.4 1082.7 L288.5 1082.9 L287.5 1083.0 L282.6 1083.0 M315.5 1061.2 L307.0 1061.2 L304.0 1070.1 L308.3 1070.1 L308.3 1070.1 L309.2 1070.3 L310.1 1070.6 L310.7 1071.2 L311.3 1072.0 L311.6 1073.0 L311.8 1074.1 L311.7 1075.3 L311.5 1076.6 L311.1 1077.8 L310.5 1079.0 L309.8 1080.1 L308.9 1081.1 L308.0 1081.9 L307.0 1082.5 L306.0 1082.9 L305.0 1083.0 L300.1 1083.0"/>
<path d="M679.4 1056.7 L680.9 1056.6 L682.3 1056.2 L683.3 1055.6 L684.2 1054.7 L684.9 1053.6 L685.4 1052.2 L686.5 1048.2 L686.7 1046.9 L686.6 1045.8 L686.1 1044.9 L685.3 1044.3 L684.2 1043.9 L682.8 1043.8 L682.8 1043.8 L681.3 1043.9 L680.0 1044.3 L678.9 1044.9 L678.0 1045.8 L677.3 1046.9 L676.8 1048.2 L675.8 1052.2 L675.6 1053.6 L675.7 1054.7 L676.1 1055.6 L676.9 1056.2 L678.0 1056.6 L679.4 1056.7 L679.4 1056.7 M685.3 1052.7 L683.0 1061.6 L683.0 1061.6 L682.7 1062.4 L682.2 1063.3 L681.5 1064.0 L680.8 1064.7 L679.9 1065.3 L679.0 1065.7 L678.0 1065.9 L677.0 1066.0 L672.2 1066.0 M689.6 1065.7 L690.6 1065.2 M710.1 1043.8 L699.8 1059.3 L709.5 1059.3 M708.3 1053.6 L705.1 1066.0 M727.5 1043.8 L717.2 1059.3 L726.8 1059.3 M725.7 1053.6 L722.5 1066.0"/>
<path d="M778.1 1173.5 L777.9 1174.6 L778.8 1173.6 L779.9 1172.9 L781.1 1172.4 L782.2 1172.2 L783.3 1172.4 L784.2 1172.9 L784.9 1173.6 L785.3 1174.6 L785.4 1175.8 L785.3 1177.1 L784.8 1178.3 L784.1 1179.5 L783.1 1180.5 L782.0 1181.3 L780.9 1181.8 L779.7 1181.9 L777.7 1181.9 M777.7 1181.9 L779.9 1181.9 L779.9 1181.9 L780.8 1182.0 L781.5 1182.4 L782.2 1183.0 L782.7 1183.7 L783.0 1184.7 L783.1 1185.7 L783.1 1186.9 L782.8 1188.1 L782.4 1189.3 L781.9 1190.5 L781.2 1191.5 L780.4 1192.5 L779.5 1193.3 L778.6 1193.8 L777.6 1194.2 L776.7 1194.3 L772.2 1194.3 M788.5 1194.0 L789.4 1193.5 M811.2 1172.2 L803.3 1172.2 L800.3 1181.3 L804.4 1181.3 L804.4 1181.3 L805.2 1181.4 L806.0 1181.8 L806.6 1182.4 L807.1 1183.2 L807.4 1184.2 L807.5 1185.3 L807.4 1186.5 L807.2 1187.8 L806.8 1189.1 L806.2 1190.3 L805.5 1191.4 L804.7 1192.4 L803.8 1193.2 L802.8 1193.8 L801.9 1194.2 L801.0 1194.3 L796.5 1194.3 M818.5 1172.2 L827.5 1172.2 L814.8 1194.3"/>
<path d="M467.8 1091.6 L467.7 1090.2 L467.3 1088.9 L466.7 1087.9 L465.9 1087.0 L464.8 1086.3 L463.4 1085.9 L450.4 1082.5 L449.0 1082.2 L447.9 1082.3 L447.1 1082.8 L446.5 1083.5 L446.1 1084.6 L446.0 1085.9 L446.0 1085.9 L446.1 1087.4 L446.5 1088.6 L447.1 1089.7 L447.9 1090.5 L449.0 1091.2 L450.4 1091.7 L463.4 1095.1 L464.8 1095.3 L465.9 1095.2 L466.7 1094.8 L467.3 1094.0 L467.7 1093.0 L467.8 1091.6 L467.8 1091.6 M467.5 1079.5 L467.0 1078.6 M467.8 1066.8 L467.7 1065.4 L467.3 1064.1 L466.7 1063.1 L465.9 1062.2 L464.8 1061.5 L463.4 1061.0 L450.4 1057.6 L449.0 1057.4 L447.9 1057.5 L447.1 1058.0 L446.5 1058.7 L446.1 1059.7 L446.0 1061.1 L446.0 1061.1 L446.1 1062.6 L446.5 1063.8 L447.1 1064.9 L447.9 1065.7 L449.0 1066.4 L450.4 1066.9 L463.4 1070.3 L464.8 1070.5 L465.9 1070.4 L466.7 1070.0 L467.3 1069.2 L467.7 1068.2 L467.8 1066.8 L467.8 1066.8 M446.0 1049.1 L446.0 1039.9 L467.8 1052.7"/>
<path d="M533.5 1063.2 L527.6 1086.0 M533.5 1063.2 L526.2 1069.1 M534.8 1085.7 L535.7 1085.2 M548.5 1063.2 L557.3 1063.2 L544.5 1086.0 M573.3 1063.2 L565.5 1063.2 L562.4 1072.5 L566.4 1072.5 L566.4 1072.5 L567.3 1072.7 L568.0 1073.1 L568.6 1073.7 L569.1 1074.5 L569.3 1075.5 L569.5 1076.7 L569.4 1078.0 L569.1 1079.3 L568.7 1080.6 L568.1 1081.8 L567.4 1083.0 L566.6 1084.0 L565.7 1084.9 L564.8 1085.5 L563.8 1085.9 L562.9 1086.0 L558.5 1086.0"/>
<path d="M479.6 1168.6 L499.6 1173.8 M479.6 1168.6 L484.8 1175.6 M499.3 1166.8 L498.9 1165.9 M479.6 1145.2 L479.6 1152.8 L487.8 1155.6 L487.8 1151.7 L487.8 1151.7 L487.9 1150.9 L488.2 1150.1 L488.8 1149.5 L489.5 1149.1 L490.4 1148.8 L491.4 1148.6 L492.5 1148.7 L493.7 1148.9 L494.9 1149.3 L496.0 1149.8 L497.0 1150.5 L497.9 1151.2 L498.6 1152.1 L499.2 1153.0 L499.5 1153.9 L499.6 1154.8 L499.6 1159.1 M491.2 1136.9 L491.1 1135.6 L490.8 1134.4 L490.2 1133.4 L489.4 1132.6 L488.4 1132.0 L487.2 1131.5 L483.6 1130.6 L482.4 1130.4 L481.4 1130.5 L480.6 1130.9 L480.0 1131.6 L479.7 1132.6 L479.6 1133.9 L479.6 1133.9 L479.7 1135.3 L480.0 1136.4 L480.6 1137.4 L481.4 1138.2 L482.4 1138.9 L483.6 1139.3 L487.2 1140.2 L488.4 1140.4 L489.4 1140.3 L490.2 1139.9 L490.8 1139.2 L491.1 1138.2 L491.2 1136.9 L491.2 1136.9 M487.6 1131.6 L495.6 1133.7 L495.6 1133.7 L496.4 1134.0 L497.1 1134.4 L497.8 1135.0 L498.4 1135.7 L498.9 1136.5 L499.3 1137.4 L499.5 1138.2 L499.6 1139.1 L499.6 1143.5"/>
<path d="M570.7 1136.9 L565.0 1158.8 M570.7 1136.9 L563.6 1142.6 M572.1 1158.5 L572.9 1158.0 M594.1 1136.9 L586.5 1136.9 L583.5 1145.9 L587.4 1145.9 L587.4 1145.9 L588.2 1146.0 L588.9 1146.4 L589.5 1147.0 L590.0 1147.8 L590.3 1148.8 L590.4 1149.9 L590.3 1151.1 L590.1 1152.3 L589.6 1153.6 L589.1 1154.8 L588.4 1155.9 L587.6 1156.9 L586.7 1157.7 L585.8 1158.3 L584.9 1158.7 L584.0 1158.8 L579.7 1158.8 M602.1 1149.6 L603.4 1149.5 L604.6 1149.1 L605.6 1148.5 L606.4 1147.7 L607.1 1146.6 L607.5 1145.2 L608.6 1141.3 L608.8 1139.9 L608.7 1138.8 L608.3 1138.0 L607.7 1137.4 L606.7 1137.0 L605.4 1136.9 L605.4 1136.9 L604.0 1137.0 L602.8 1137.4 L601.8 1138.0 L601.0 1138.8 L600.4 1139.9 L599.9 1141.3 L598.9 1145.2 L598.6 1146.6 L598.7 1147.7 L599.1 1148.5 L599.8 1149.1 L600.8 1149.5 L602.1 1149.6 L602.1 1149.6 M607.4 1145.7 L605.2 1154.4 L605.2 1154.4 L604.9 1155.3 L604.4 1156.1 L603.8 1156.9 L603.1 1157.5 L602.3 1158.1 L601.4 1158.5 L600.5 1158.7 L599.7 1158.8 L595.3 1158.8"/>
<path d="M432.0 1182.6 L453.8 1188.2 M432.0 1182.6 L437.7 1189.6 M453.5 1181.3 L453.0 1180.5 M432.0 1159.7 L432.0 1159.7 L432.1 1160.8 L432.5 1162.0 L433.2 1163.2 L434.0 1164.4 L435.2 1165.7 L436.5 1166.8 L438.0 1168.0 L439.6 1169.0 L441.4 1170.0 L443.3 1170.8 L445.3 1171.6 L447.3 1172.2 M453.8 1169.6 L453.7 1168.3 L453.3 1167.1 L452.7 1166.1 L451.9 1165.3 L450.8 1164.7 L449.4 1164.2 L445.5 1163.2 L444.2 1162.9 L443.1 1163.0 L442.2 1163.4 L441.6 1164.1 L441.3 1165.0 L441.2 1166.3 L441.2 1166.3 L441.3 1167.6 L441.6 1168.8 L442.2 1169.8 L443.1 1170.6 L444.2 1171.2 L445.5 1171.7 L449.4 1172.7 L450.8 1172.9 L451.9 1172.9 L452.7 1172.5 L453.3 1171.8 L453.7 1170.9 L453.8 1169.6 L453.8 1169.6 M444.6 1151.8 L444.5 1150.5 L444.2 1149.4 L443.6 1148.4 L442.7 1147.6 L441.6 1146.9 L440.3 1146.4 L436.4 1145.4 L435.0 1145.2 L433.9 1145.3 L433.1 1145.6 L432.5 1146.3 L432.1 1147.3 L432.0 1148.6 L432.0 1148.6 L432.1 1149.9 L432.5 1151.1 L433.1 1152.0 L433.9 1152.9 L435.0 1153.5 L436.4 1154.0 L440.3 1155.0 L441.6 1155.2 L442.7 1155.1 L443.6 1154.8 L444.2 1154.1 L444.5 1153.1 L444.6 1151.8 L444.6 1151.8 M440.7 1146.6 L449.4 1148.8 L449.4 1148.8 L450.3 1149.1 L451.1 1149.6 L451.9 1150.2 L452.5 1150.9 L453.1 1151.7 L453.5 1152.5 L453.7 1153.4 L453.8 1154.2 L453.8 1158.5"/>
<path d="M628.0 1180.7 L648.8 1186.1 M628.0 1180.7 L633.4 1187.8 M648.5 1179.1 L648.1 1178.2 M628.0 1157.3 L628.0 1157.3 L628.1 1158.5 L628.5 1159.7 L629.1 1160.9 L630.0 1162.2 L631.0 1163.4 L632.3 1164.6 L633.7 1165.7 L635.3 1166.8 L637.0 1167.7 L638.8 1168.5 L640.7 1169.2 L642.6 1169.8 M648.8 1167.1 L648.7 1165.7 L648.3 1164.5 L647.8 1163.5 L647.0 1162.7 L645.9 1162.1 L644.6 1161.6 L640.9 1160.7 L639.6 1160.5 L638.6 1160.5 L637.8 1160.9 L637.2 1161.6 L636.9 1162.6 L636.7 1163.9 L636.7 1163.9 L636.9 1165.3 L637.2 1166.5 L637.8 1167.5 L638.6 1168.3 L639.6 1168.9 L640.9 1169.4 L644.6 1170.4 L645.9 1170.6 L647.0 1170.5 L647.8 1170.1 L648.3 1169.4 L648.7 1168.4 L648.8 1167.1 L648.8 1167.1 M640.1 1149.1 L639.9 1147.8 L639.6 1146.6 L639.0 1145.6 L638.2 1144.8 L637.2 1144.1 L635.9 1143.7 L632.2 1142.7 L630.9 1142.5 L629.8 1142.6 L629.0 1143.0 L628.5 1143.7 L628.1 1144.7 L628.0 1146.0 L628.0 1146.0 L628.1 1147.3 L628.5 1148.5 L629.0 1149.5 L629.8 1150.3 L630.9 1151.0 L632.2 1151.4 L635.9 1152.4 L637.2 1152.6 L638.2 1152.5 L639.0 1152.1 L639.6 1151.4 L639.9 1150.4 L640.1 1149.1 L640.1 1149.1 M636.3 1143.8 L644.6 1146.0 L644.6 1146.0 L645.5 1146.2 L646.2 1146.7 L647.0 1147.3 L647.6 1148.0 L648.1 1148.8 L648.5 1149.6 L648.7 1150.5 L648.8 1151.4 L648.8 1155.7"/>
<path d="M527.0 1168.7 L521.5 1189.6 M527.0 1168.7 L518.8 1174.1 M532.5 1179.1 L543.4 1179.1 M561.2 1168.7 L555.8 1189.6 M561.2 1168.7 L553.0 1174.1"/>
<path d="M486.0 1213.8 L489.7 1199.4 L501.9 1199.4 L502.1 1199.4 L502.3 1199.5 L502.4 1199.5 L502.5 1199.7 L502.5 1199.8 L502.5 1200.0 L498.9 1213.8 M493.6 1199.4 L493.6 1199.4 L494.4 1199.5 L495.0 1199.6 L495.4 1199.9 L495.7 1200.3 L495.8 1200.8 L495.7 1201.3 L492.4 1213.8 M520.2 1199.4 L515.5 1199.4 L514.1 1199.5 L512.8 1199.8 L511.8 1200.3 L511.0 1201.0 L510.4 1201.8 L510.0 1202.9 L508.0 1210.3 L507.9 1211.4 L508.1 1212.2 L508.5 1212.9 L509.3 1213.4 L510.4 1213.7 L511.8 1213.8 L516.4 1213.8 M520.2 1199.4 L516.4 1213.8 M524.7 1213.8 L528.4 1199.4 L531.9 1210.7 L541.3 1199.4 L537.5 1213.8 M550.4 1213.8 L551.9 1213.7 L553.1 1213.4 L554.1 1212.9 L555.0 1212.2 L555.6 1211.4 L556.0 1210.3 L557.2 1205.6 L557.3 1204.6 L557.2 1203.7 L556.7 1203.0 L555.9 1202.5 L554.9 1202.2 L553.5 1202.1 L553.5 1202.1 L552.0 1202.2 L550.8 1202.5 L549.8 1203.0 L548.9 1203.7 L548.3 1204.6 L547.9 1205.6 L546.7 1210.3 L546.6 1211.4 L546.7 1212.2 L547.2 1212.9 L548.0 1213.4 L549.0 1213.7 L550.4 1213.8 L550.4 1213.8 M553.9 1194.3 L561.7 1194.3 M553.9 1194.3 L556.8 1199.6 L557.2 1200.5 L557.4 1201.3 L557.6 1202.2 L557.6 1203.1 L557.5 1204.1 L557.3 1205.0 L556.6 1208.0 M567.1 1199.4 L564.2 1210.3 L564.1 1211.4 L564.2 1212.2 L564.7 1212.9 L565.5 1213.4 L566.6 1213.7 L568.0 1213.8 L572.6 1213.8 M576.3 1199.4 L572.3 1215.0 L571.9 1216.0 L571.3 1216.9 L570.4 1217.6 L569.4 1218.1 L568.2 1218.4 L566.7 1218.5 L562.6 1218.5 M584.6 1199.4 L579.6 1218.5 M584.6 1199.4 L589.2 1199.4 L590.6 1199.5 L591.7 1199.8 L592.5 1200.3 L592.9 1201.0 L593.1 1201.8 L593.0 1202.9 L591.0 1210.3 L590.6 1211.4 L590.0 1212.2 L589.2 1212.9 L588.2 1213.4 L586.9 1213.7 L585.5 1213.8 L580.8 1213.8"/>
<path d="M514.3 1227.2 L514.9 1226.3 L515.7 1225.4 L516.5 1224.7 L517.5 1224.2 L518.6 1223.9 L519.6 1223.8 L520.5 1223.9 L521.4 1224.2 L522.1 1224.7 L522.6 1225.4 L523.0 1226.3 L523.1 1227.2 L523.0 1228.2 L522.7 1229.2 L509.6 1244.6 L518.7 1244.6 M526.1 1244.3 L527.0 1243.9 M548.7 1223.8 L540.7 1223.8 L537.8 1232.3 L541.9 1232.3 L541.9 1232.3 L542.8 1232.4 L543.5 1232.8 L544.2 1233.4 L544.7 1234.1 L545.0 1235.1 L545.1 1236.1 L545.1 1237.3 L544.9 1238.5 L544.5 1239.7 L543.9 1240.8 L543.2 1241.9 L542.4 1242.8 L541.5 1243.6 L540.6 1244.1 L539.6 1244.5 L538.7 1244.6 L534.1 1244.6 M550.6 1244.6 L554.6 1229.2 L557.2 1241.3 L566.0 1229.2 L562.0 1244.6 M574.0 1227.2 L574.6 1226.3 L575.3 1225.4 L576.2 1224.7 L577.2 1224.2 L578.3 1223.9 L579.3 1223.8 L580.2 1223.9 L581.1 1224.2 L581.8 1224.7 L582.3 1225.4 L582.7 1226.3 L582.8 1227.2 L582.7 1228.2 L582.4 1229.2 L569.3 1244.6 L578.4 1244.6"/>
<path d="M258.9 1166.2 L249.2 1181.3 L258.1 1181.3 M257.1 1175.7 L254.0 1187.8 M263.6 1187.5 L264.5 1187.0 M282.8 1166.2 L277.2 1187.8 M282.8 1166.2 L275.6 1171.8 M298.8 1166.2 L298.8 1166.2 L297.6 1166.3 L296.4 1166.7 L295.1 1167.4 L293.8 1168.2 L292.6 1169.3 L291.4 1170.6 L290.2 1172.1 L289.1 1173.8 L288.2 1175.5 L287.3 1177.4 L286.6 1179.3 L286.0 1181.3 M288.7 1187.8 L290.1 1187.7 L291.3 1187.3 L292.4 1186.7 L293.2 1185.9 L293.8 1184.8 L294.3 1183.5 L295.3 1179.6 L295.5 1178.3 L295.4 1177.2 L295.0 1176.4 L294.3 1175.8 L293.3 1175.4 L292.0 1175.3 L292.0 1175.3 L290.6 1175.4 L289.4 1175.8 L288.4 1176.4 L287.5 1177.2 L286.9 1178.3 L286.4 1179.6 L285.4 1183.5 L285.2 1184.8 L285.3 1185.9 L285.7 1186.7 L286.4 1187.3 L287.4 1187.7 L288.7 1187.8 L288.7 1187.8"/>
<path d="M431.5 1369.8 L428.4 1381.9 L428.2 1383.1 L428.3 1384.1 L428.7 1384.8 L429.4 1385.4 L430.3 1385.7 L431.6 1385.8 L435.8 1385.8 M439.9 1369.8 L435.8 1385.8 M443.3 1385.5 L444.3 1385.0 M451.5 1385.8 L455.7 1369.8 L459.9 1369.8 L461.2 1369.9 L462.1 1370.2 L462.8 1370.8 L463.2 1371.5 L463.3 1372.5 L463.1 1373.7 L459.9 1385.8 M467.5 1385.5 L468.4 1385.0 M495.8 1364.2 L490.2 1385.8 M495.8 1364.2 L488.3 1369.8"/>
<path d="M566.6 1342.2 L560.8 1364.8 M566.6 1342.2 L559.2 1348.1 M572.6 1364.8 L574.0 1364.7 L575.3 1364.3 L576.3 1363.7 L577.2 1362.8 L577.8 1361.7 L578.3 1360.3 L581.9 1346.7 L582.1 1345.3 L582.0 1344.2 L581.6 1343.3 L580.9 1342.7 L579.8 1342.3 L578.5 1342.2 L578.5 1342.2 L577.1 1342.3 L575.8 1342.7 L574.8 1343.3 L573.9 1344.2 L573.2 1345.3 L572.8 1346.7 L569.2 1360.3 L569.0 1361.7 L569.1 1362.8 L569.5 1363.7 L570.2 1364.3 L571.2 1364.7 L572.6 1364.8 L572.6 1364.8 M599.4 1342.2 L591.4 1342.2 L588.4 1351.5 L592.5 1351.5 L592.5 1351.5 L593.3 1351.6 L594.1 1352.0 L594.7 1352.6 L595.2 1353.4 L595.5 1354.4 L595.6 1355.6 L595.5 1356.8 L595.3 1358.1 L594.8 1359.4 L594.3 1360.7 L593.5 1361.8 L592.7 1362.8 L591.8 1363.7 L590.9 1364.3 L589.9 1364.7 L589.0 1364.8 L584.4 1364.8 M600.9 1364.5 L601.8 1364.0 M616.8 1352.1 L618.1 1352.0 L619.1 1351.7 L620.0 1351.2 L620.7 1350.4 L621.3 1349.5 L621.7 1348.3 L622.3 1346.0 L622.5 1344.9 L622.4 1343.9 L622.1 1343.2 L621.5 1342.6 L620.6 1342.3 L619.4 1342.2 L619.2 1342.2 L618.0 1342.3 L616.9 1342.6 L616.1 1343.2 L615.3 1343.9 L614.8 1344.9 L614.3 1346.0 L613.8 1348.3 L613.6 1349.5 L613.6 1350.4 L614.0 1351.2 L614.6 1351.7 L615.5 1352.0 L616.6 1352.1 L616.8 1352.1 M613.4 1364.8 L614.9 1364.7 L616.1 1364.3 L617.2 1363.7 L618.0 1362.8 L618.7 1361.7 L619.2 1360.3 L620.1 1356.7 L620.3 1355.3 L620.3 1354.2 L619.9 1353.3 L619.1 1352.6 L618.1 1352.3 L616.7 1352.1 L616.7 1352.1 L615.3 1352.3 L614.1 1352.6 L613.0 1353.3 L612.2 1354.2 L611.5 1355.3 L611.0 1356.7 L610.1 1360.3 L609.8 1361.7 L609.9 1362.8 L610.3 1363.7 L611.0 1364.3 L612.1 1364.7 L613.4 1364.8 L613.4 1364.8 M625.3 1364.8 L629.6 1348.1 L631.9 1361.2 L641.0 1348.1 L636.7 1364.8 M649.0 1345.9 L649.6 1344.9 L650.4 1344.0 L651.3 1343.2 L652.3 1342.7 L653.3 1342.3 L654.4 1342.2 L655.3 1342.3 L656.2 1342.7 L656.9 1343.2 L657.4 1344.0 L657.7 1344.9 L657.8 1345.9 L657.7 1347.0 L657.3 1348.0 L643.9 1364.8 L653.0 1364.8"/>
<path d="M563.4 1388.2 L557.8 1409.8 M563.4 1388.2 L556.2 1393.8 M576.2 1388.2 L570.6 1409.8 M576.2 1388.2 L569.0 1393.8 M583.4 1389.5 L583.2 1390.6 L584.1 1389.6 L585.2 1388.8 L586.3 1388.4 L587.5 1388.2 L588.5 1388.4 L589.4 1388.8 L590.1 1389.6 L590.5 1390.6 L590.6 1391.7 L590.4 1393.0 L590.0 1394.2 L589.3 1395.3 L588.3 1396.3 L587.3 1397.1 L586.1 1397.5 L585.0 1397.7 L583.0 1397.7 M583.0 1397.7 L585.2 1397.7 L585.2 1397.7 L586.1 1397.8 L586.8 1398.2 L587.4 1398.7 L587.9 1399.5 L588.2 1400.4 L588.3 1401.4 L588.3 1402.6 L588.1 1403.8 L587.7 1404.9 L587.1 1406.1 L586.5 1407.1 L585.7 1408.0 L584.8 1408.8 L583.9 1409.3 L583.0 1409.7 L582.1 1409.8 L577.7 1409.8 M593.6 1409.5 L594.5 1409.0 M605.8 1409.8 L607.2 1409.7 L608.4 1409.3 L609.4 1408.7 L610.2 1407.9 L610.9 1406.8 L611.4 1405.5 L614.7 1392.5 L615.0 1391.2 L614.9 1390.1 L614.5 1389.3 L613.8 1388.7 L612.8 1388.3 L611.4 1388.2 L611.4 1388.2 L610.1 1388.3 L608.9 1388.7 L607.8 1389.3 L607.0 1390.1 L606.4 1391.2 L605.9 1392.5 L602.5 1405.5 L602.3 1406.8 L602.4 1407.9 L602.8 1408.7 L603.5 1409.3 L604.5 1409.7 L605.8 1409.8 L605.8 1409.8 M617.3 1409.8 L621.5 1393.8 L623.7 1406.3 L632.5 1393.8 L628.3 1409.8 M640.3 1391.7 L640.9 1390.8 L641.6 1389.9 L642.5 1389.2 L643.5 1388.6 L644.5 1388.3 L645.4 1388.2 L646.4 1388.3 L647.2 1388.6 L647.9 1389.2 L648.4 1389.9 L648.7 1390.8 L648.8 1391.7 L648.7 1392.7 L648.3 1393.8 L635.4 1409.8 L644.3 1409.8"/>
</g></svg></body></html>
